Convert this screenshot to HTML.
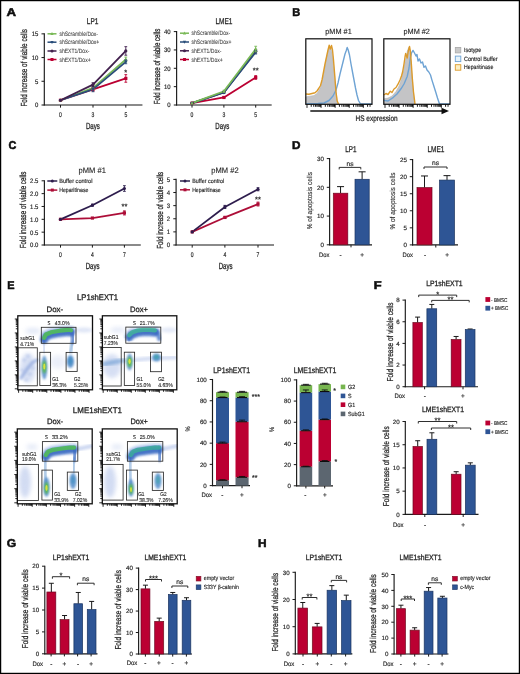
<!DOCTYPE html>
<html><head><meta charset="utf-8"><style>
html,body{margin:0;padding:0;background:#fff;}
svg{display:block;font-family:"Liberation Sans",sans-serif;will-change:transform;text-rendering:geometricPrecision;}
</style></head><body>
<svg width="520" height="674" viewBox="0 0 520 674">
<defs><filter id="gblur" x="0" y="0" width="520" height="674" filterUnits="userSpaceOnUse"><feGaussianBlur stdDeviation="0.35"/></filter><filter id="b2_2" x="-50%" y="-50%" width="200%" height="200%"><feGaussianBlur stdDeviation="2.2"/></filter><filter id="b1_2" x="-50%" y="-50%" width="200%" height="200%"><feGaussianBlur stdDeviation="1.2"/></filter><filter id="b0_9" x="-50%" y="-50%" width="200%" height="200%"><feGaussianBlur stdDeviation="0.9"/></filter><filter id="b2_0" x="-50%" y="-50%" width="200%" height="200%"><feGaussianBlur stdDeviation="2.0"/></filter><filter id="b1_8" x="-50%" y="-50%" width="200%" height="200%"><feGaussianBlur stdDeviation="1.8"/></filter><filter id="b2_5" x="-50%" y="-50%" width="200%" height="200%"><feGaussianBlur stdDeviation="2.5"/></filter><filter id="b1_0" x="-50%" y="-50%" width="200%" height="200%"><feGaussianBlur stdDeviation="1.0"/></filter><filter id="b1_3" x="-50%" y="-50%" width="200%" height="200%"><feGaussianBlur stdDeviation="1.3"/></filter><filter id="b0_8" x="-50%" y="-50%" width="200%" height="200%"><feGaussianBlur stdDeviation="0.8"/></filter><filter id="b0_55" x="-50%" y="-50%" width="200%" height="200%"><feGaussianBlur stdDeviation="0.55"/></filter><filter id="b0_5" x="-50%" y="-50%" width="200%" height="200%"><feGaussianBlur stdDeviation="0.5"/></filter><filter id="b1_1" x="-50%" y="-50%" width="200%" height="200%"><feGaussianBlur stdDeviation="1.1"/></filter><filter id="b1_4" x="-50%" y="-50%" width="200%" height="200%"><feGaussianBlur stdDeviation="1.4"/></filter><filter id="b0_6" x="-50%" y="-50%" width="200%" height="200%"><feGaussianBlur stdDeviation="0.6"/></filter><clipPath id="clip0"><rect x="17.8" y="315.8" width="74.7" height="74.0"/></clipPath><clipPath id="clip1"><rect x="102.4" y="315.8" width="74.4" height="74.0"/></clipPath><clipPath id="clip2"><rect x="17.3" y="428.9" width="74.9" height="74.90000000000003"/></clipPath><clipPath id="clip3"><rect x="102.3" y="428.9" width="74.89999999999999" height="74.90000000000003"/></clipPath></defs>
<rect x="0" y="0" width="520" height="674" fill="#fff"/>
<g filter="url(#gblur)">
<text x="6.60" y="16.40" font-size="11.3" text-anchor="start" textLength="9.60" lengthAdjust="spacingAndGlyphs" fill="#0a0a0a" font-weight="bold" stroke="#0a0a0a" stroke-width="0.5">A</text>
<line x1="44.30" y1="33.30" x2="44.30" y2="105.55" stroke="#1a1a1a" stroke-width="1.15" />
<line x1="43.75" y1="105.00" x2="142.40" y2="105.00" stroke="#1a1a1a" stroke-width="1.15" />
<line x1="41.50" y1="105.00" x2="44.30" y2="105.00" stroke="#1a1a1a" stroke-width="1.0" />
<text x="38.30" y="107.34" font-size="6.5" text-anchor="end" textLength="3.33" lengthAdjust="spacingAndGlyphs" fill="#262626" stroke="#262626" stroke-width="0.1725">0</text>
<line x1="41.50" y1="81.28" x2="44.30" y2="81.28" stroke="#1a1a1a" stroke-width="1.0" />
<text x="38.30" y="83.62" font-size="6.5" text-anchor="end" textLength="3.33" lengthAdjust="spacingAndGlyphs" fill="#262626" stroke="#262626" stroke-width="0.1725">5</text>
<line x1="41.50" y1="57.57" x2="44.30" y2="57.57" stroke="#1a1a1a" stroke-width="1.0" />
<text x="38.30" y="59.91" font-size="6.5" text-anchor="end" textLength="6.65" lengthAdjust="spacingAndGlyphs" fill="#262626" stroke="#262626" stroke-width="0.1725">10</text>
<line x1="41.50" y1="33.85" x2="44.30" y2="33.85" stroke="#1a1a1a" stroke-width="1.0" />
<text x="38.30" y="36.19" font-size="6.5" text-anchor="end" textLength="6.65" lengthAdjust="spacingAndGlyphs" fill="#262626" stroke="#262626" stroke-width="0.1725">15</text>
<line x1="60.50" y1="105.00" x2="60.50" y2="107.60" stroke="#1a1a1a" stroke-width="1.0" />
<text x="60.50" y="116.60" font-size="6.8" text-anchor="middle" textLength="2.80" lengthAdjust="spacingAndGlyphs" fill="#262626" stroke="#262626" stroke-width="0.186">0</text>
<line x1="93.00" y1="105.00" x2="93.00" y2="107.60" stroke="#1a1a1a" stroke-width="1.0" />
<text x="93.00" y="116.60" font-size="6.8" text-anchor="middle" textLength="2.80" lengthAdjust="spacingAndGlyphs" fill="#262626" stroke="#262626" stroke-width="0.186">3</text>
<line x1="125.80" y1="105.00" x2="125.80" y2="107.60" stroke="#1a1a1a" stroke-width="1.0" />
<text x="125.80" y="116.60" font-size="6.8" text-anchor="middle" textLength="2.80" lengthAdjust="spacingAndGlyphs" fill="#262626" stroke="#262626" stroke-width="0.186">5</text>
<text x="92.60" y="23.90" font-size="8.4" text-anchor="middle" textLength="11.60" lengthAdjust="spacingAndGlyphs" fill="#262626" stroke="#262626" stroke-width="0.258">LP1</text>
<text x="92.90" y="128.50" font-size="8.8" text-anchor="middle" textLength="13.90" lengthAdjust="spacingAndGlyphs" fill="#262626" stroke="#262626" stroke-width="0.276">Days</text>
<text transform="translate(27.30,106.50) rotate(-90)" font-size="8.8" text-anchor="start" textLength="77.50" lengthAdjust="spacingAndGlyphs" fill="#262626" stroke="#262626" stroke-width="0.276">Fold increase of viable cells</text>
<polyline points="60.50,100.26 93.00,89.35 125.80,78.44" fill="none" stroke="#bb0632" stroke-width="1.8" stroke-linejoin="round" />
<polyline points="60.50,100.26 93.00,87.92 125.80,59.46" fill="none" stroke="#79b957" stroke-width="1.8" stroke-linejoin="round" />
<polyline points="60.50,100.26 93.00,89.35 125.80,61.84" fill="none" stroke="#2a4d7a" stroke-width="1.8" stroke-linejoin="round" />
<polyline points="60.50,100.26 93.00,84.60 125.80,50.93" fill="none" stroke="#42204e" stroke-width="1.8" stroke-linejoin="round" />
<rect x="58.90" y="98.66" width="3.20" height="3.20" fill="#bb0632" />
<line x1="93.00" y1="91.24" x2="93.00" y2="87.45" stroke="#bb0632" stroke-width="0.9" />
<line x1="91.60" y1="87.45" x2="94.40" y2="87.45" stroke="#bb0632" stroke-width="0.9" />
<line x1="91.60" y1="91.24" x2="94.40" y2="91.24" stroke="#bb0632" stroke-width="0.9" />
<rect x="91.40" y="87.75" width="3.20" height="3.20" fill="#bb0632" />
<line x1="125.80" y1="82.23" x2="125.80" y2="74.64" stroke="#bb0632" stroke-width="0.9" />
<line x1="124.40" y1="74.64" x2="127.20" y2="74.64" stroke="#bb0632" stroke-width="0.9" />
<line x1="124.40" y1="82.23" x2="127.20" y2="82.23" stroke="#bb0632" stroke-width="0.9" />
<rect x="124.20" y="76.84" width="3.20" height="3.20" fill="#bb0632" />
<polygon points="60.50,98.34 58.74,101.54 62.26,101.54" fill="#79b957" />
<line x1="93.00" y1="89.35" x2="93.00" y2="86.50" stroke="#79b957" stroke-width="0.9" />
<line x1="91.60" y1="86.50" x2="94.40" y2="86.50" stroke="#79b957" stroke-width="0.9" />
<line x1="91.60" y1="89.35" x2="94.40" y2="89.35" stroke="#79b957" stroke-width="0.9" />
<polygon points="93.00,86.00 91.24,89.20 94.76,89.20" fill="#79b957" />
<line x1="125.80" y1="61.84" x2="125.80" y2="57.09" stroke="#79b957" stroke-width="0.9" />
<line x1="124.40" y1="57.09" x2="127.20" y2="57.09" stroke="#79b957" stroke-width="0.9" />
<line x1="124.40" y1="61.84" x2="127.20" y2="61.84" stroke="#79b957" stroke-width="0.9" />
<polygon points="125.80,57.54 124.04,60.74 127.56,60.74" fill="#79b957" />
<polygon points="60.50,102.18 58.74,98.98 62.26,98.98" fill="#2a4d7a" />
<line x1="93.00" y1="91.72" x2="93.00" y2="86.98" stroke="#2a4d7a" stroke-width="0.9" />
<line x1="91.60" y1="86.98" x2="94.40" y2="86.98" stroke="#2a4d7a" stroke-width="0.9" />
<line x1="91.60" y1="91.72" x2="94.40" y2="91.72" stroke="#2a4d7a" stroke-width="0.9" />
<polygon points="93.00,91.27 91.24,88.07 94.76,88.07" fill="#2a4d7a" />
<line x1="125.80" y1="63.73" x2="125.80" y2="59.94" stroke="#2a4d7a" stroke-width="0.9" />
<line x1="124.40" y1="59.94" x2="127.20" y2="59.94" stroke="#2a4d7a" stroke-width="0.9" />
<line x1="124.40" y1="63.73" x2="127.20" y2="63.73" stroke="#2a4d7a" stroke-width="0.9" />
<polygon points="125.80,63.76 124.04,60.56 127.56,60.56" fill="#2a4d7a" />
<circle cx="60.50" cy="100.26" r="1.6" fill="#42204e"/>
<line x1="93.00" y1="86.50" x2="93.00" y2="82.71" stroke="#42204e" stroke-width="0.9" />
<line x1="91.60" y1="82.71" x2="94.40" y2="82.71" stroke="#42204e" stroke-width="0.9" />
<line x1="91.60" y1="86.50" x2="94.40" y2="86.50" stroke="#42204e" stroke-width="0.9" />
<circle cx="93.00" cy="84.60" r="1.6" fill="#42204e"/>
<line x1="125.80" y1="55.20" x2="125.80" y2="46.66" stroke="#42204e" stroke-width="0.9" />
<line x1="124.40" y1="46.66" x2="127.20" y2="46.66" stroke="#42204e" stroke-width="0.9" />
<line x1="124.40" y1="55.20" x2="127.20" y2="55.20" stroke="#42204e" stroke-width="0.9" />
<circle cx="125.80" cy="50.93" r="1.6" fill="#42204e"/>
<text x="125.80" y="74.60" font-size="7.5" text-anchor="middle" textLength="2.92" lengthAdjust="spacingAndGlyphs" fill="#262626" stroke="#262626" stroke-width="0.21749999999999997">*</text>
<line x1="47.50" y1="33.80" x2="56.50" y2="33.80" stroke="#79b957" stroke-width="1.5" />
<polygon points="52.00,32.00 50.35,35.00 53.65,35.00" fill="#79b957" />
<text x="59.40" y="35.90" font-size="6.3" text-anchor="start" textLength="38.65" lengthAdjust="spacingAndGlyphs" fill="#383838" stroke="#383838" stroke-width="0.05">shScramble/Dox-</text>
<line x1="47.50" y1="42.20" x2="56.50" y2="42.20" stroke="#2a4d7a" stroke-width="1.5" />
<polygon points="52.00,44.00 50.35,41.00 53.65,41.00" fill="#2a4d7a" />
<text x="59.40" y="44.30" font-size="6.3" text-anchor="start" textLength="39.92" lengthAdjust="spacingAndGlyphs" fill="#383838" stroke="#383838" stroke-width="0.05">shScramble/Dox+</text>
<line x1="47.50" y1="51.00" x2="56.50" y2="51.00" stroke="#42204e" stroke-width="1.5" />
<circle cx="52.00" cy="51.00" r="1.5" fill="#42204e"/>
<text x="59.40" y="53.10" font-size="6.3" text-anchor="start" textLength="29.97" lengthAdjust="spacingAndGlyphs" fill="#383838" stroke="#383838" stroke-width="0.05">shEXT1/Dox-</text>
<line x1="47.50" y1="59.50" x2="56.50" y2="59.50" stroke="#bb0632" stroke-width="1.5" />
<rect x="50.50" y="58.00" width="3.00" height="3.00" fill="#bb0632" />
<text x="59.40" y="61.60" font-size="6.3" text-anchor="start" textLength="31.23" lengthAdjust="spacingAndGlyphs" fill="#383838" stroke="#383838" stroke-width="0.05">shEXT1/Dox+</text>
<line x1="176.60" y1="31.05" x2="176.60" y2="105.55" stroke="#1a1a1a" stroke-width="1.15" />
<line x1="176.05" y1="105.00" x2="271.70" y2="105.00" stroke="#1a1a1a" stroke-width="1.15" />
<line x1="173.80" y1="105.00" x2="176.60" y2="105.00" stroke="#1a1a1a" stroke-width="1.0" />
<text x="170.60" y="107.34" font-size="6.5" text-anchor="end" textLength="3.33" lengthAdjust="spacingAndGlyphs" fill="#262626" stroke="#262626" stroke-width="0.1725">0</text>
<line x1="173.80" y1="86.65" x2="176.60" y2="86.65" stroke="#1a1a1a" stroke-width="1.0" />
<text x="170.60" y="88.99" font-size="6.5" text-anchor="end" textLength="6.65" lengthAdjust="spacingAndGlyphs" fill="#262626" stroke="#262626" stroke-width="0.1725">10</text>
<line x1="173.80" y1="68.30" x2="176.60" y2="68.30" stroke="#1a1a1a" stroke-width="1.0" />
<text x="170.60" y="70.64" font-size="6.5" text-anchor="end" textLength="6.65" lengthAdjust="spacingAndGlyphs" fill="#262626" stroke="#262626" stroke-width="0.1725">20</text>
<line x1="173.80" y1="49.95" x2="176.60" y2="49.95" stroke="#1a1a1a" stroke-width="1.0" />
<text x="170.60" y="52.29" font-size="6.5" text-anchor="end" textLength="6.65" lengthAdjust="spacingAndGlyphs" fill="#262626" stroke="#262626" stroke-width="0.1725">30</text>
<line x1="173.80" y1="31.60" x2="176.60" y2="31.60" stroke="#1a1a1a" stroke-width="1.0" />
<text x="170.60" y="33.94" font-size="6.5" text-anchor="end" textLength="6.65" lengthAdjust="spacingAndGlyphs" fill="#262626" stroke="#262626" stroke-width="0.1725">40</text>
<line x1="192.00" y1="105.00" x2="192.00" y2="107.60" stroke="#1a1a1a" stroke-width="1.0" />
<text x="192.00" y="116.60" font-size="6.8" text-anchor="middle" textLength="2.80" lengthAdjust="spacingAndGlyphs" fill="#262626" stroke="#262626" stroke-width="0.186">0</text>
<line x1="223.90" y1="105.00" x2="223.90" y2="107.60" stroke="#1a1a1a" stroke-width="1.0" />
<text x="223.90" y="116.60" font-size="6.8" text-anchor="middle" textLength="2.80" lengthAdjust="spacingAndGlyphs" fill="#262626" stroke="#262626" stroke-width="0.186">3</text>
<line x1="255.70" y1="105.00" x2="255.70" y2="107.60" stroke="#1a1a1a" stroke-width="1.0" />
<text x="255.70" y="116.60" font-size="6.8" text-anchor="middle" textLength="2.80" lengthAdjust="spacingAndGlyphs" fill="#262626" stroke="#262626" stroke-width="0.186">5</text>
<text x="224.00" y="23.90" font-size="8.4" text-anchor="middle" textLength="17.00" lengthAdjust="spacingAndGlyphs" fill="#262626" stroke="#262626" stroke-width="0.258">LME1</text>
<text x="222.30" y="128.50" font-size="8.8" text-anchor="middle" textLength="13.90" lengthAdjust="spacingAndGlyphs" fill="#262626" stroke="#262626" stroke-width="0.276">Days</text>
<text transform="translate(160.30,104.20) rotate(-90)" font-size="8.8" text-anchor="start" textLength="75.50" lengthAdjust="spacingAndGlyphs" fill="#262626" stroke="#262626" stroke-width="0.276">Fold increase of viable cells</text>
<polyline points="192.00,103.17 223.90,97.48 255.70,77.47" fill="none" stroke="#bb0632" stroke-width="1.8" stroke-linejoin="round" />
<polyline points="192.00,103.17 223.90,92.34 255.70,51.23" fill="none" stroke="#42204e" stroke-width="1.8" stroke-linejoin="round" />
<polyline points="192.00,103.17 223.90,92.52 255.70,52.15" fill="none" stroke="#2a4d7a" stroke-width="1.8" stroke-linejoin="round" />
<polyline points="192.00,103.17 223.90,91.24 255.70,49.03" fill="none" stroke="#79b957" stroke-width="1.8" stroke-linejoin="round" />
<rect x="190.40" y="101.57" width="3.20" height="3.20" fill="#bb0632" />
<line x1="223.90" y1="98.03" x2="223.90" y2="96.93" stroke="#bb0632" stroke-width="0.9" />
<line x1="222.50" y1="96.93" x2="225.30" y2="96.93" stroke="#bb0632" stroke-width="0.9" />
<line x1="222.50" y1="98.03" x2="225.30" y2="98.03" stroke="#bb0632" stroke-width="0.9" />
<rect x="222.30" y="95.88" width="3.20" height="3.20" fill="#bb0632" />
<line x1="255.70" y1="79.31" x2="255.70" y2="75.64" stroke="#bb0632" stroke-width="0.9" />
<line x1="254.30" y1="75.64" x2="257.10" y2="75.64" stroke="#bb0632" stroke-width="0.9" />
<line x1="254.30" y1="79.31" x2="257.10" y2="79.31" stroke="#bb0632" stroke-width="0.9" />
<rect x="254.10" y="75.88" width="3.20" height="3.20" fill="#bb0632" />
<circle cx="192.00" cy="103.17" r="1.6" fill="#42204e"/>
<line x1="223.90" y1="93.07" x2="223.90" y2="91.60" stroke="#42204e" stroke-width="0.9" />
<line x1="222.50" y1="91.60" x2="225.30" y2="91.60" stroke="#42204e" stroke-width="0.9" />
<line x1="222.50" y1="93.07" x2="225.30" y2="93.07" stroke="#42204e" stroke-width="0.9" />
<circle cx="223.90" cy="92.34" r="1.6" fill="#42204e"/>
<line x1="255.70" y1="53.07" x2="255.70" y2="49.40" stroke="#42204e" stroke-width="0.9" />
<line x1="254.30" y1="49.40" x2="257.10" y2="49.40" stroke="#42204e" stroke-width="0.9" />
<line x1="254.30" y1="53.07" x2="257.10" y2="53.07" stroke="#42204e" stroke-width="0.9" />
<circle cx="255.70" cy="51.23" r="1.6" fill="#42204e"/>
<polygon points="192.00,105.09 190.24,101.89 193.76,101.89" fill="#2a4d7a" />
<line x1="223.90" y1="93.44" x2="223.90" y2="91.60" stroke="#2a4d7a" stroke-width="0.9" />
<line x1="222.50" y1="91.60" x2="225.30" y2="91.60" stroke="#2a4d7a" stroke-width="0.9" />
<line x1="222.50" y1="93.44" x2="225.30" y2="93.44" stroke="#2a4d7a" stroke-width="0.9" />
<polygon points="223.90,94.44 222.14,91.24 225.66,91.24" fill="#2a4d7a" />
<line x1="255.70" y1="53.99" x2="255.70" y2="50.32" stroke="#2a4d7a" stroke-width="0.9" />
<line x1="254.30" y1="50.32" x2="257.10" y2="50.32" stroke="#2a4d7a" stroke-width="0.9" />
<line x1="254.30" y1="53.99" x2="257.10" y2="53.99" stroke="#2a4d7a" stroke-width="0.9" />
<polygon points="255.70,54.07 253.94,50.87 257.46,50.87" fill="#2a4d7a" />
<polygon points="192.00,101.25 190.24,104.45 193.76,104.45" fill="#79b957" />
<line x1="223.90" y1="92.16" x2="223.90" y2="90.32" stroke="#79b957" stroke-width="0.9" />
<line x1="222.50" y1="90.32" x2="225.30" y2="90.32" stroke="#79b957" stroke-width="0.9" />
<line x1="222.50" y1="92.16" x2="225.30" y2="92.16" stroke="#79b957" stroke-width="0.9" />
<polygon points="223.90,89.32 222.14,92.52 225.66,92.52" fill="#79b957" />
<line x1="255.70" y1="51.78" x2="255.70" y2="46.28" stroke="#79b957" stroke-width="0.9" />
<line x1="254.30" y1="46.28" x2="257.10" y2="46.28" stroke="#79b957" stroke-width="0.9" />
<line x1="254.30" y1="51.78" x2="257.10" y2="51.78" stroke="#79b957" stroke-width="0.9" />
<polygon points="255.70,47.11 253.94,50.31 257.46,50.31" fill="#79b957" />
<text x="255.70" y="72.60" font-size="7.5" text-anchor="middle" textLength="5.84" lengthAdjust="spacingAndGlyphs" fill="#262626" stroke="#262626" stroke-width="0.21749999999999997">**</text>
<line x1="180.00" y1="33.20" x2="189.00" y2="33.20" stroke="#79b957" stroke-width="1.5" />
<polygon points="184.50,31.40 182.85,34.40 186.15,34.40" fill="#79b957" />
<text x="191.50" y="35.30" font-size="6.3" text-anchor="start" textLength="38.65" lengthAdjust="spacingAndGlyphs" fill="#383838" stroke="#383838" stroke-width="0.05">shScramble/Dox-</text>
<line x1="180.00" y1="42.00" x2="189.00" y2="42.00" stroke="#2a4d7a" stroke-width="1.5" />
<polygon points="184.50,43.80 182.85,40.80 186.15,40.80" fill="#2a4d7a" />
<text x="191.50" y="44.10" font-size="6.3" text-anchor="start" textLength="39.92" lengthAdjust="spacingAndGlyphs" fill="#383838" stroke="#383838" stroke-width="0.05">shScramble/Dox+</text>
<line x1="180.00" y1="50.80" x2="189.00" y2="50.80" stroke="#42204e" stroke-width="1.5" />
<circle cx="184.50" cy="50.80" r="1.5" fill="#42204e"/>
<text x="191.50" y="52.90" font-size="6.3" text-anchor="start" textLength="29.97" lengthAdjust="spacingAndGlyphs" fill="#383838" stroke="#383838" stroke-width="0.05">shEXT1/Dox-</text>
<line x1="180.00" y1="59.50" x2="189.00" y2="59.50" stroke="#bb0632" stroke-width="1.5" />
<rect x="183.00" y="58.00" width="3.00" height="3.00" fill="#bb0632" />
<text x="191.50" y="61.60" font-size="6.3" text-anchor="start" textLength="31.23" lengthAdjust="spacingAndGlyphs" fill="#383838" stroke="#383838" stroke-width="0.05">shEXT1/Dox+</text>
<text x="292.20" y="16.20" font-size="11.3" text-anchor="start" textLength="8.00" lengthAdjust="spacingAndGlyphs" fill="#0a0a0a" font-weight="bold" stroke="#0a0a0a" stroke-width="0.5">B</text>
<text x="338.50" y="34.40" font-size="7.6" text-anchor="middle" textLength="26.50" lengthAdjust="spacingAndGlyphs" fill="#262626" stroke="#262626" stroke-width="0.12">pMM #1</text>
<text x="416.70" y="34.40" font-size="7.6" text-anchor="middle" textLength="26.50" lengthAdjust="spacingAndGlyphs" fill="#262626" stroke="#262626" stroke-width="0.12">pMM #2</text>
<polygon points="305.80,104.30 305.80,96.80 310.00,96.20 314.00,95.50 317.00,93.50 320.00,88.50 322.00,82.00 324.00,72.00 326.00,60.00 328.00,51.00 329.50,46.50 331.00,48.00 332.50,55.00 334.00,70.00 335.50,88.00 337.00,100.00 338.00,104.30 338.00,104.30" fill="#c4c4c6" stroke="#b0b0b0" stroke-width="0.5"/>
<polyline points="305.80,103.90 318.00,103.50 324.00,103.00 329.00,100.50 333.00,96.00 336.00,90.00 338.00,83.00 340.00,74.00 342.00,66.00 343.50,60.00 345.00,54.00 346.30,50.50 347.20,47.50 348.20,50.00 349.50,55.00 351.00,64.00 352.50,72.00 354.00,80.00 355.50,88.00 357.00,95.00 358.50,100.50 360.50,104.00 372.00,104.00" fill="none" stroke="#6ea3d4" stroke-width="1.4" stroke-linejoin="round" />
<polyline points="305.80,94.00 309.00,94.20 312.00,93.50 315.00,92.80 317.00,91.00 319.00,88.00 320.50,85.50 322.00,80.00 323.50,72.00 325.00,64.00 326.50,57.00 328.00,50.00 329.20,45.20 330.30,49.00 331.50,45.50 332.50,50.00 333.50,60.00 334.80,76.00 336.00,92.00 337.20,101.00 338.50,104.00" fill="none" stroke="#dc9a2a" stroke-width="1.4" stroke-linejoin="round" />
<rect x="305.80" y="38.80" width="66.20" height="65.50" fill="none" stroke="#111" stroke-width="1.2" />
<line x1="307.00" y1="104.30" x2="307.00" y2="107.80" stroke="#111" stroke-width="0.95" />
<line x1="311.24" y1="104.30" x2="311.24" y2="106.80" stroke="#111" stroke-width="0.95" />
<line x1="313.72" y1="104.30" x2="313.72" y2="106.80" stroke="#111" stroke-width="0.95" />
<line x1="315.48" y1="104.30" x2="315.48" y2="106.80" stroke="#111" stroke-width="0.95" />
<line x1="316.85" y1="104.30" x2="316.85" y2="106.80" stroke="#111" stroke-width="0.95" />
<line x1="317.96" y1="104.30" x2="317.96" y2="106.80" stroke="#111" stroke-width="0.95" />
<line x1="318.90" y1="104.30" x2="318.90" y2="106.80" stroke="#111" stroke-width="0.95" />
<line x1="319.72" y1="104.30" x2="319.72" y2="106.80" stroke="#111" stroke-width="0.95" />
<line x1="320.44" y1="104.30" x2="320.44" y2="106.80" stroke="#111" stroke-width="0.95" />
<line x1="321.09" y1="104.30" x2="321.09" y2="107.80" stroke="#111" stroke-width="0.95" />
<line x1="325.33" y1="104.30" x2="325.33" y2="106.80" stroke="#111" stroke-width="0.95" />
<line x1="327.81" y1="104.30" x2="327.81" y2="106.80" stroke="#111" stroke-width="0.95" />
<line x1="329.57" y1="104.30" x2="329.57" y2="106.80" stroke="#111" stroke-width="0.95" />
<line x1="330.93" y1="104.30" x2="330.93" y2="106.80" stroke="#111" stroke-width="0.95" />
<line x1="332.05" y1="104.30" x2="332.05" y2="106.80" stroke="#111" stroke-width="0.95" />
<line x1="332.99" y1="104.30" x2="332.99" y2="106.80" stroke="#111" stroke-width="0.95" />
<line x1="333.81" y1="104.30" x2="333.81" y2="106.80" stroke="#111" stroke-width="0.95" />
<line x1="334.53" y1="104.30" x2="334.53" y2="106.80" stroke="#111" stroke-width="0.95" />
<line x1="335.17" y1="104.30" x2="335.17" y2="107.80" stroke="#111" stroke-width="0.95" />
<line x1="339.41" y1="104.30" x2="339.41" y2="106.80" stroke="#111" stroke-width="0.95" />
<line x1="341.89" y1="104.30" x2="341.89" y2="106.80" stroke="#111" stroke-width="0.95" />
<line x1="343.65" y1="104.30" x2="343.65" y2="106.80" stroke="#111" stroke-width="0.95" />
<line x1="345.02" y1="104.30" x2="345.02" y2="106.80" stroke="#111" stroke-width="0.95" />
<line x1="346.13" y1="104.30" x2="346.13" y2="106.80" stroke="#111" stroke-width="0.95" />
<line x1="347.07" y1="104.30" x2="347.07" y2="106.80" stroke="#111" stroke-width="0.95" />
<line x1="347.89" y1="104.30" x2="347.89" y2="106.80" stroke="#111" stroke-width="0.95" />
<line x1="348.61" y1="104.30" x2="348.61" y2="106.80" stroke="#111" stroke-width="0.95" />
<line x1="349.26" y1="104.30" x2="349.26" y2="107.80" stroke="#111" stroke-width="0.95" />
<line x1="353.50" y1="104.30" x2="353.50" y2="106.80" stroke="#111" stroke-width="0.95" />
<line x1="355.98" y1="104.30" x2="355.98" y2="106.80" stroke="#111" stroke-width="0.95" />
<line x1="357.74" y1="104.30" x2="357.74" y2="106.80" stroke="#111" stroke-width="0.95" />
<line x1="359.10" y1="104.30" x2="359.10" y2="106.80" stroke="#111" stroke-width="0.95" />
<line x1="360.22" y1="104.30" x2="360.22" y2="106.80" stroke="#111" stroke-width="0.95" />
<line x1="361.16" y1="104.30" x2="361.16" y2="106.80" stroke="#111" stroke-width="0.95" />
<line x1="361.98" y1="104.30" x2="361.98" y2="106.80" stroke="#111" stroke-width="0.95" />
<line x1="362.70" y1="104.30" x2="362.70" y2="106.80" stroke="#111" stroke-width="0.95" />
<line x1="363.34" y1="104.30" x2="363.34" y2="107.80" stroke="#111" stroke-width="0.95" />
<line x1="367.58" y1="104.30" x2="367.58" y2="106.80" stroke="#111" stroke-width="0.95" />
<line x1="370.06" y1="104.30" x2="370.06" y2="106.80" stroke="#111" stroke-width="0.95" />
<polygon points="383.80,104.30 383.80,98.80 388.00,98.00 392.00,96.00 396.00,91.50 399.00,86.00 401.50,79.00 403.50,70.00 405.50,60.00 407.30,51.00 408.80,47.30 410.20,55.00 411.50,70.00 413.00,88.00 414.60,104.30 414.60,104.30" fill="#c4c4c6" stroke="#b0b0b0" stroke-width="0.5"/>
<polyline points="383.80,100.40 388.00,101.00 393.40,97.30 397.00,94.00 401.00,88.80 404.00,84.00 407.20,76.50 409.00,68.00 410.30,58.00 411.50,53.00 413.00,50.40 414.50,53.00 416.00,56.00 417.00,54.50 418.00,61.00 419.50,59.00 421.00,63.00 422.50,62.00 424.00,67.30 425.50,66.00 427.00,70.00 428.80,72.00 430.50,75.00 431.80,79.60 433.50,85.00 435.70,92.00 437.50,98.00 439.50,104.00 450.00,104.00" fill="none" stroke="#6ea3d4" stroke-width="1.4" stroke-linejoin="round" />
<polyline points="383.80,95.00 386.00,93.50 388.00,94.50 390.30,91.20 392.00,92.50 394.00,89.00 396.00,87.50 398.00,84.20 400.00,80.00 401.50,76.00 402.60,72.00 404.00,64.00 405.00,57.00 405.70,53.50 406.60,56.00 407.20,58.00 408.30,51.00 409.50,46.50 410.50,52.00 411.50,66.00 412.30,78.00 413.50,92.00 415.00,104.00" fill="none" stroke="#dc9a2a" stroke-width="1.4" stroke-linejoin="round" />
<rect x="383.80" y="38.80" width="66.20" height="65.50" fill="none" stroke="#111" stroke-width="1.2" />
<line x1="385.00" y1="104.30" x2="385.00" y2="107.80" stroke="#111" stroke-width="0.95" />
<line x1="389.24" y1="104.30" x2="389.24" y2="106.80" stroke="#111" stroke-width="0.95" />
<line x1="391.72" y1="104.30" x2="391.72" y2="106.80" stroke="#111" stroke-width="0.95" />
<line x1="393.48" y1="104.30" x2="393.48" y2="106.80" stroke="#111" stroke-width="0.95" />
<line x1="394.85" y1="104.30" x2="394.85" y2="106.80" stroke="#111" stroke-width="0.95" />
<line x1="395.96" y1="104.30" x2="395.96" y2="106.80" stroke="#111" stroke-width="0.95" />
<line x1="396.90" y1="104.30" x2="396.90" y2="106.80" stroke="#111" stroke-width="0.95" />
<line x1="397.72" y1="104.30" x2="397.72" y2="106.80" stroke="#111" stroke-width="0.95" />
<line x1="398.44" y1="104.30" x2="398.44" y2="106.80" stroke="#111" stroke-width="0.95" />
<line x1="399.09" y1="104.30" x2="399.09" y2="107.80" stroke="#111" stroke-width="0.95" />
<line x1="403.33" y1="104.30" x2="403.33" y2="106.80" stroke="#111" stroke-width="0.95" />
<line x1="405.81" y1="104.30" x2="405.81" y2="106.80" stroke="#111" stroke-width="0.95" />
<line x1="407.57" y1="104.30" x2="407.57" y2="106.80" stroke="#111" stroke-width="0.95" />
<line x1="408.93" y1="104.30" x2="408.93" y2="106.80" stroke="#111" stroke-width="0.95" />
<line x1="410.05" y1="104.30" x2="410.05" y2="106.80" stroke="#111" stroke-width="0.95" />
<line x1="410.99" y1="104.30" x2="410.99" y2="106.80" stroke="#111" stroke-width="0.95" />
<line x1="411.81" y1="104.30" x2="411.81" y2="106.80" stroke="#111" stroke-width="0.95" />
<line x1="412.53" y1="104.30" x2="412.53" y2="106.80" stroke="#111" stroke-width="0.95" />
<line x1="413.17" y1="104.30" x2="413.17" y2="107.80" stroke="#111" stroke-width="0.95" />
<line x1="417.41" y1="104.30" x2="417.41" y2="106.80" stroke="#111" stroke-width="0.95" />
<line x1="419.89" y1="104.30" x2="419.89" y2="106.80" stroke="#111" stroke-width="0.95" />
<line x1="421.65" y1="104.30" x2="421.65" y2="106.80" stroke="#111" stroke-width="0.95" />
<line x1="423.02" y1="104.30" x2="423.02" y2="106.80" stroke="#111" stroke-width="0.95" />
<line x1="424.13" y1="104.30" x2="424.13" y2="106.80" stroke="#111" stroke-width="0.95" />
<line x1="425.07" y1="104.30" x2="425.07" y2="106.80" stroke="#111" stroke-width="0.95" />
<line x1="425.89" y1="104.30" x2="425.89" y2="106.80" stroke="#111" stroke-width="0.95" />
<line x1="426.61" y1="104.30" x2="426.61" y2="106.80" stroke="#111" stroke-width="0.95" />
<line x1="427.26" y1="104.30" x2="427.26" y2="107.80" stroke="#111" stroke-width="0.95" />
<line x1="431.50" y1="104.30" x2="431.50" y2="106.80" stroke="#111" stroke-width="0.95" />
<line x1="433.98" y1="104.30" x2="433.98" y2="106.80" stroke="#111" stroke-width="0.95" />
<line x1="435.74" y1="104.30" x2="435.74" y2="106.80" stroke="#111" stroke-width="0.95" />
<line x1="437.10" y1="104.30" x2="437.10" y2="106.80" stroke="#111" stroke-width="0.95" />
<line x1="438.22" y1="104.30" x2="438.22" y2="106.80" stroke="#111" stroke-width="0.95" />
<line x1="439.16" y1="104.30" x2="439.16" y2="106.80" stroke="#111" stroke-width="0.95" />
<line x1="439.98" y1="104.30" x2="439.98" y2="106.80" stroke="#111" stroke-width="0.95" />
<line x1="440.70" y1="104.30" x2="440.70" y2="106.80" stroke="#111" stroke-width="0.95" />
<line x1="441.34" y1="104.30" x2="441.34" y2="107.80" stroke="#111" stroke-width="0.95" />
<line x1="445.58" y1="104.30" x2="445.58" y2="106.80" stroke="#111" stroke-width="0.95" />
<line x1="448.06" y1="104.30" x2="448.06" y2="106.80" stroke="#111" stroke-width="0.95" />
<line x1="310.30" y1="111.00" x2="443.00" y2="111.00" stroke="#111" stroke-width="1.35" />
<polygon points="449.00,111.00 441.50,107.80 441.50,114.20" fill="#111" />
<text x="376.60" y="120.60" font-size="8.0" text-anchor="middle" textLength="42.00" lengthAdjust="spacingAndGlyphs" fill="#262626" stroke="#262626" stroke-width="0.24">HS expression</text>
<rect x="455.30" y="47.40" width="5.50" height="5.50" fill="#c9c9c9" stroke="#a8a8a8" stroke-width="0.8" />
<rect x="455.30" y="56.10" width="5.50" height="5.50" fill="#e6f3fb" stroke="#6ea3d4" stroke-width="0.9" />
<rect x="455.30" y="64.70" width="5.50" height="5.50" fill="#fcefc4" stroke="#dc9a2a" stroke-width="0.9" />
<text x="464.00" y="52.10" font-size="6.2" text-anchor="start" textLength="17.30" lengthAdjust="spacingAndGlyphs" fill="#262626" stroke="#262626" stroke-width="0.15899999999999997">Isotype</text>
<text x="464.00" y="60.70" font-size="6.2" text-anchor="start" textLength="33.60" lengthAdjust="spacingAndGlyphs" fill="#262626" stroke="#262626" stroke-width="0.15899999999999997">Control Buffer</text>
<text x="464.00" y="69.10" font-size="6.2" text-anchor="start" textLength="29.30" lengthAdjust="spacingAndGlyphs" fill="#262626" stroke="#262626" stroke-width="0.15899999999999997">Heparitinase</text>
<text x="8.40" y="149.30" font-size="11.3" text-anchor="start" textLength="7.90" lengthAdjust="spacingAndGlyphs" fill="#0a0a0a" font-weight="bold" stroke="#0a0a0a" stroke-width="0.5">C</text>
<line x1="44.40" y1="180.25" x2="44.40" y2="245.55" stroke="#1a1a1a" stroke-width="1.15" />
<line x1="43.85" y1="245.00" x2="140.80" y2="245.00" stroke="#1a1a1a" stroke-width="1.15" />
<line x1="41.60" y1="245.00" x2="44.40" y2="245.00" stroke="#1a1a1a" stroke-width="1.0" />
<text x="38.40" y="247.34" font-size="6.5" text-anchor="end" textLength="8.31" lengthAdjust="spacingAndGlyphs" fill="#262626" stroke="#262626" stroke-width="0.1725">0.0</text>
<line x1="41.60" y1="232.16" x2="44.40" y2="232.16" stroke="#1a1a1a" stroke-width="1.0" />
<text x="38.40" y="234.50" font-size="6.5" text-anchor="end" textLength="8.31" lengthAdjust="spacingAndGlyphs" fill="#262626" stroke="#262626" stroke-width="0.1725">0.5</text>
<line x1="41.60" y1="219.32" x2="44.40" y2="219.32" stroke="#1a1a1a" stroke-width="1.0" />
<text x="38.40" y="221.66" font-size="6.5" text-anchor="end" textLength="8.31" lengthAdjust="spacingAndGlyphs" fill="#262626" stroke="#262626" stroke-width="0.1725">1.0</text>
<line x1="41.60" y1="206.48" x2="44.40" y2="206.48" stroke="#1a1a1a" stroke-width="1.0" />
<text x="38.40" y="208.82" font-size="6.5" text-anchor="end" textLength="8.31" lengthAdjust="spacingAndGlyphs" fill="#262626" stroke="#262626" stroke-width="0.1725">1.5</text>
<line x1="41.60" y1="193.64" x2="44.40" y2="193.64" stroke="#1a1a1a" stroke-width="1.0" />
<text x="38.40" y="195.98" font-size="6.5" text-anchor="end" textLength="8.31" lengthAdjust="spacingAndGlyphs" fill="#262626" stroke="#262626" stroke-width="0.1725">2.0</text>
<line x1="41.60" y1="180.80" x2="44.40" y2="180.80" stroke="#1a1a1a" stroke-width="1.0" />
<text x="38.40" y="183.14" font-size="6.5" text-anchor="end" textLength="8.31" lengthAdjust="spacingAndGlyphs" fill="#262626" stroke="#262626" stroke-width="0.1725">2.5</text>
<line x1="60.50" y1="245.00" x2="60.50" y2="247.60" stroke="#1a1a1a" stroke-width="1.0" />
<text x="60.50" y="256.90" font-size="6.8" text-anchor="middle" textLength="2.80" lengthAdjust="spacingAndGlyphs" fill="#262626" stroke="#262626" stroke-width="0.186">0</text>
<line x1="92.40" y1="245.00" x2="92.40" y2="247.60" stroke="#1a1a1a" stroke-width="1.0" />
<text x="92.40" y="256.90" font-size="6.8" text-anchor="middle" textLength="2.80" lengthAdjust="spacingAndGlyphs" fill="#262626" stroke="#262626" stroke-width="0.186">4</text>
<line x1="124.40" y1="245.00" x2="124.40" y2="247.60" stroke="#1a1a1a" stroke-width="1.0" />
<text x="124.40" y="256.90" font-size="6.8" text-anchor="middle" textLength="2.80" lengthAdjust="spacingAndGlyphs" fill="#262626" stroke="#262626" stroke-width="0.186">7</text>
<text x="92.20" y="172.80" font-size="8.0" text-anchor="middle" textLength="27.30" lengthAdjust="spacingAndGlyphs" fill="#262626" stroke="#262626" stroke-width="0.12">pMM #1</text>
<text x="92.60" y="269.40" font-size="8.8" text-anchor="middle" textLength="13.90" lengthAdjust="spacingAndGlyphs" fill="#262626" stroke="#262626" stroke-width="0.276">Days</text>
<text transform="translate(26.00,248.20) rotate(-90)" font-size="8.8" text-anchor="start" textLength="76.50" lengthAdjust="spacingAndGlyphs" fill="#262626" stroke="#262626" stroke-width="0.276">Fold increase of viable cells</text>
<polyline points="60.50,219.32 92.40,218.04 124.40,212.90" fill="none" stroke="#ad1038" stroke-width="1.8" stroke-linejoin="round" />
<polyline points="60.50,219.32 92.40,205.20 124.40,188.50" fill="none" stroke="#2e1f4e" stroke-width="1.8" stroke-linejoin="round" />
<rect x="58.90" y="217.72" width="3.20" height="3.20" fill="#ad1038" />
<line x1="92.40" y1="218.55" x2="92.40" y2="217.52" stroke="#ad1038" stroke-width="0.9" />
<line x1="91.00" y1="217.52" x2="93.80" y2="217.52" stroke="#ad1038" stroke-width="0.9" />
<line x1="91.00" y1="218.55" x2="93.80" y2="218.55" stroke="#ad1038" stroke-width="0.9" />
<rect x="90.80" y="216.44" width="3.20" height="3.20" fill="#ad1038" />
<line x1="124.40" y1="214.95" x2="124.40" y2="210.85" stroke="#ad1038" stroke-width="0.9" />
<line x1="123.00" y1="210.85" x2="125.80" y2="210.85" stroke="#ad1038" stroke-width="0.9" />
<line x1="123.00" y1="214.95" x2="125.80" y2="214.95" stroke="#ad1038" stroke-width="0.9" />
<rect x="122.80" y="211.30" width="3.20" height="3.20" fill="#ad1038" />
<circle cx="60.50" cy="219.32" r="1.6" fill="#2e1f4e"/>
<line x1="92.40" y1="206.22" x2="92.40" y2="204.17" stroke="#2e1f4e" stroke-width="0.9" />
<line x1="91.00" y1="204.17" x2="93.80" y2="204.17" stroke="#2e1f4e" stroke-width="0.9" />
<line x1="91.00" y1="206.22" x2="93.80" y2="206.22" stroke="#2e1f4e" stroke-width="0.9" />
<circle cx="92.40" cy="205.20" r="1.6" fill="#2e1f4e"/>
<line x1="124.40" y1="191.33" x2="124.40" y2="185.68" stroke="#2e1f4e" stroke-width="0.9" />
<line x1="123.00" y1="185.68" x2="125.80" y2="185.68" stroke="#2e1f4e" stroke-width="0.9" />
<line x1="123.00" y1="191.33" x2="125.80" y2="191.33" stroke="#2e1f4e" stroke-width="0.9" />
<circle cx="124.40" cy="188.50" r="1.6" fill="#2e1f4e"/>
<text x="124.40" y="209.00" font-size="7.5" text-anchor="middle" textLength="5.84" lengthAdjust="spacingAndGlyphs" fill="#262626" stroke="#262626" stroke-width="0.21749999999999997">**</text>
<line x1="47.30" y1="181.00" x2="57.30" y2="181.00" stroke="#2e1f4e" stroke-width="1.5" />
<circle cx="52.30" cy="181.00" r="1.5" fill="#2e1f4e"/>
<text x="59.20" y="183.10" font-size="6.0" text-anchor="start" textLength="33.20" lengthAdjust="spacingAndGlyphs" fill="#1e1e1e" stroke="#1e1e1e" stroke-width="0.14">Buffer control</text>
<line x1="47.30" y1="190.10" x2="57.30" y2="190.10" stroke="#ad1038" stroke-width="1.5" />
<rect x="50.80" y="188.60" width="3.00" height="3.00" fill="#ad1038" />
<text x="59.20" y="192.20" font-size="6.0" text-anchor="start" textLength="29.20" lengthAdjust="spacingAndGlyphs" fill="#1e1e1e" stroke="#1e1e1e" stroke-width="0.14">Heparitinase</text>
<line x1="176.10" y1="178.85" x2="176.10" y2="245.55" stroke="#1a1a1a" stroke-width="1.15" />
<line x1="175.55" y1="245.00" x2="274.00" y2="245.00" stroke="#1a1a1a" stroke-width="1.15" />
<line x1="173.30" y1="245.00" x2="176.10" y2="245.00" stroke="#1a1a1a" stroke-width="1.0" />
<text x="170.10" y="247.34" font-size="6.5" text-anchor="end" textLength="3.33" lengthAdjust="spacingAndGlyphs" fill="#262626" stroke="#262626" stroke-width="0.1725">0</text>
<line x1="173.30" y1="231.88" x2="176.10" y2="231.88" stroke="#1a1a1a" stroke-width="1.0" />
<text x="170.10" y="234.22" font-size="6.5" text-anchor="end" textLength="3.33" lengthAdjust="spacingAndGlyphs" fill="#262626" stroke="#262626" stroke-width="0.1725">1</text>
<line x1="173.30" y1="218.76" x2="176.10" y2="218.76" stroke="#1a1a1a" stroke-width="1.0" />
<text x="170.10" y="221.10" font-size="6.5" text-anchor="end" textLength="3.33" lengthAdjust="spacingAndGlyphs" fill="#262626" stroke="#262626" stroke-width="0.1725">2</text>
<line x1="173.30" y1="205.64" x2="176.10" y2="205.64" stroke="#1a1a1a" stroke-width="1.0" />
<text x="170.10" y="207.98" font-size="6.5" text-anchor="end" textLength="3.33" lengthAdjust="spacingAndGlyphs" fill="#262626" stroke="#262626" stroke-width="0.1725">3</text>
<line x1="173.30" y1="192.52" x2="176.10" y2="192.52" stroke="#1a1a1a" stroke-width="1.0" />
<text x="170.10" y="194.86" font-size="6.5" text-anchor="end" textLength="3.33" lengthAdjust="spacingAndGlyphs" fill="#262626" stroke="#262626" stroke-width="0.1725">4</text>
<line x1="173.30" y1="179.40" x2="176.10" y2="179.40" stroke="#1a1a1a" stroke-width="1.0" />
<text x="170.10" y="181.74" font-size="6.5" text-anchor="end" textLength="3.33" lengthAdjust="spacingAndGlyphs" fill="#262626" stroke="#262626" stroke-width="0.1725">5</text>
<line x1="192.20" y1="245.00" x2="192.20" y2="247.60" stroke="#1a1a1a" stroke-width="1.0" />
<text x="192.20" y="256.90" font-size="6.8" text-anchor="middle" textLength="2.80" lengthAdjust="spacingAndGlyphs" fill="#262626" stroke="#262626" stroke-width="0.186">0</text>
<line x1="224.90" y1="245.00" x2="224.90" y2="247.60" stroke="#1a1a1a" stroke-width="1.0" />
<text x="224.90" y="256.90" font-size="6.8" text-anchor="middle" textLength="2.80" lengthAdjust="spacingAndGlyphs" fill="#262626" stroke="#262626" stroke-width="0.186">4</text>
<line x1="258.00" y1="245.00" x2="258.00" y2="247.60" stroke="#1a1a1a" stroke-width="1.0" />
<text x="258.00" y="256.90" font-size="6.8" text-anchor="middle" textLength="2.80" lengthAdjust="spacingAndGlyphs" fill="#262626" stroke="#262626" stroke-width="0.186">7</text>
<text x="225.00" y="172.80" font-size="8.0" text-anchor="middle" textLength="27.30" lengthAdjust="spacingAndGlyphs" fill="#262626" stroke="#262626" stroke-width="0.12">pMM #2</text>
<text x="225.60" y="269.40" font-size="8.8" text-anchor="middle" textLength="13.90" lengthAdjust="spacingAndGlyphs" fill="#262626" stroke="#262626" stroke-width="0.276">Days</text>
<text transform="translate(162.50,248.80) rotate(-90)" font-size="8.8" text-anchor="start" textLength="77.00" lengthAdjust="spacingAndGlyphs" fill="#262626" stroke="#262626" stroke-width="0.276">Fold increase of viable cells</text>
<polyline points="192.20,231.88 224.90,217.45 258.00,204.07" fill="none" stroke="#ad1038" stroke-width="1.8" stroke-linejoin="round" />
<polyline points="192.20,231.88 224.90,206.95 258.00,189.24" fill="none" stroke="#2e1f4e" stroke-width="1.8" stroke-linejoin="round" />
<rect x="190.60" y="230.28" width="3.20" height="3.20" fill="#ad1038" />
<line x1="224.90" y1="218.50" x2="224.90" y2="216.40" stroke="#ad1038" stroke-width="0.9" />
<line x1="223.50" y1="216.40" x2="226.30" y2="216.40" stroke="#ad1038" stroke-width="0.9" />
<line x1="223.50" y1="218.50" x2="226.30" y2="218.50" stroke="#ad1038" stroke-width="0.9" />
<rect x="223.30" y="215.85" width="3.20" height="3.20" fill="#ad1038" />
<line x1="258.00" y1="206.03" x2="258.00" y2="202.10" stroke="#ad1038" stroke-width="0.9" />
<line x1="256.60" y1="202.10" x2="259.40" y2="202.10" stroke="#ad1038" stroke-width="0.9" />
<line x1="256.60" y1="206.03" x2="259.40" y2="206.03" stroke="#ad1038" stroke-width="0.9" />
<rect x="256.40" y="202.47" width="3.20" height="3.20" fill="#ad1038" />
<circle cx="192.20" cy="231.88" r="1.6" fill="#2e1f4e"/>
<line x1="224.90" y1="208.53" x2="224.90" y2="205.38" stroke="#2e1f4e" stroke-width="0.9" />
<line x1="223.50" y1="205.38" x2="226.30" y2="205.38" stroke="#2e1f4e" stroke-width="0.9" />
<line x1="223.50" y1="208.53" x2="226.30" y2="208.53" stroke="#2e1f4e" stroke-width="0.9" />
<circle cx="224.90" cy="206.95" r="1.6" fill="#2e1f4e"/>
<line x1="258.00" y1="190.81" x2="258.00" y2="187.67" stroke="#2e1f4e" stroke-width="0.9" />
<line x1="256.60" y1="187.67" x2="259.40" y2="187.67" stroke="#2e1f4e" stroke-width="0.9" />
<line x1="256.60" y1="190.81" x2="259.40" y2="190.81" stroke="#2e1f4e" stroke-width="0.9" />
<circle cx="258.00" cy="189.24" r="1.6" fill="#2e1f4e"/>
<text x="258.00" y="202.30" font-size="7.5" text-anchor="middle" textLength="5.84" lengthAdjust="spacingAndGlyphs" fill="#262626" stroke="#262626" stroke-width="0.21749999999999997">**</text>
<line x1="180.00" y1="181.00" x2="190.00" y2="181.00" stroke="#2e1f4e" stroke-width="1.5" />
<circle cx="185.00" cy="181.00" r="1.5" fill="#2e1f4e"/>
<text x="192.20" y="183.10" font-size="6.0" text-anchor="start" textLength="32.10" lengthAdjust="spacingAndGlyphs" fill="#1e1e1e" stroke="#1e1e1e" stroke-width="0.14">Buffer control</text>
<line x1="180.00" y1="189.80" x2="190.00" y2="189.80" stroke="#ad1038" stroke-width="1.5" />
<rect x="183.50" y="188.30" width="3.00" height="3.00" fill="#ad1038" />
<text x="192.20" y="191.90" font-size="6.0" text-anchor="start" textLength="28.50" lengthAdjust="spacingAndGlyphs" fill="#1e1e1e" stroke="#1e1e1e" stroke-width="0.14">Heparitinase</text>
<text x="292.10" y="149.40" font-size="11.3" text-anchor="start" textLength="8.50" lengthAdjust="spacingAndGlyphs" fill="#0a0a0a" font-weight="bold" stroke="#0a0a0a" stroke-width="0.5">D</text>
<line x1="329.60" y1="158.05" x2="329.60" y2="245.35" stroke="#1a1a1a" stroke-width="1.15" />
<line x1="329.05" y1="244.80" x2="372.00" y2="244.80" stroke="#1a1a1a" stroke-width="1.15" />
<line x1="326.80" y1="244.80" x2="329.60" y2="244.80" stroke="#1a1a1a" stroke-width="1.0" />
<text x="323.90" y="247.03" font-size="6.2" text-anchor="end" textLength="3.45" lengthAdjust="spacingAndGlyphs" fill="#262626" stroke="#262626" stroke-width="0.15899999999999997">0</text>
<line x1="326.80" y1="216.07" x2="329.60" y2="216.07" stroke="#1a1a1a" stroke-width="1.0" />
<text x="323.90" y="218.30" font-size="6.2" text-anchor="end" textLength="6.90" lengthAdjust="spacingAndGlyphs" fill="#262626" stroke="#262626" stroke-width="0.15899999999999997">10</text>
<line x1="326.80" y1="187.33" x2="329.60" y2="187.33" stroke="#1a1a1a" stroke-width="1.0" />
<text x="323.90" y="189.57" font-size="6.2" text-anchor="end" textLength="6.90" lengthAdjust="spacingAndGlyphs" fill="#262626" stroke="#262626" stroke-width="0.15899999999999997">20</text>
<line x1="326.80" y1="158.60" x2="329.60" y2="158.60" stroke="#1a1a1a" stroke-width="1.0" />
<text x="323.90" y="160.83" font-size="6.2" text-anchor="end" textLength="6.90" lengthAdjust="spacingAndGlyphs" fill="#262626" stroke="#262626" stroke-width="0.15899999999999997">30</text>
<line x1="351.00" y1="244.80" x2="351.00" y2="247.40" stroke="#1a1a1a" stroke-width="1.0" />
<text x="350.80" y="152.00" font-size="8.4" text-anchor="middle" textLength="11.20" lengthAdjust="spacingAndGlyphs" fill="#262626" stroke="#262626" stroke-width="0.258">LP1</text>
<text transform="translate(311.50,229.20) rotate(-90)" font-size="7.2" text-anchor="start" textLength="57.20" lengthAdjust="spacingAndGlyphs" fill="#262626" stroke="#262626" stroke-width="0.1">% of apoptosis cells</text>
<line x1="340.55" y1="193.22" x2="340.55" y2="186.62" stroke="#1a1a1a" stroke-width="1.0" />
<line x1="337.05" y1="186.62" x2="344.05" y2="186.62" stroke="#1a1a1a" stroke-width="1.0" />
<rect x="333.30" y="193.22" width="14.50" height="51.58" fill="#bb0632" stroke="#6e0a22" stroke-width="0.7" />
<line x1="362.10" y1="179.29" x2="362.10" y2="171.82" stroke="#1a1a1a" stroke-width="1.0" />
<line x1="358.60" y1="171.82" x2="365.60" y2="171.82" stroke="#1a1a1a" stroke-width="1.0" />
<rect x="355.00" y="179.29" width="14.20" height="65.51" fill="#2d5495" stroke="#1b3560" stroke-width="0.7" />
<polyline points="339.20,169.40 339.20,167.40 360.80,167.40 360.80,169.40" fill="none" stroke="#1a1a1a" stroke-width="0.9" stroke-linejoin="round" stroke-linejoin="miter"/>
<text x="350.00" y="165.60" font-size="6.6" text-anchor="middle" textLength="6.97" lengthAdjust="spacingAndGlyphs" fill="#262626" stroke="#262626" stroke-width="0.177">ns</text>
<text x="319.00" y="256.50" font-size="6.4" text-anchor="start" textLength="10.40" lengthAdjust="spacingAndGlyphs" fill="#262626" stroke="#262626" stroke-width="0.16799999999999998">Dox</text>
<text x="340.60" y="256.50" font-size="6.4" text-anchor="middle" textLength="2.13" lengthAdjust="spacingAndGlyphs" fill="#262626" stroke="#262626" stroke-width="0.16799999999999998">-</text>
<text x="362.00" y="256.50" font-size="6.4" text-anchor="middle" textLength="3.74" lengthAdjust="spacingAndGlyphs" fill="#262626" stroke="#262626" stroke-width="0.16799999999999998">+</text>
<line x1="412.60" y1="159.05" x2="412.60" y2="245.45" stroke="#1a1a1a" stroke-width="1.15" />
<line x1="412.05" y1="244.90" x2="458.00" y2="244.90" stroke="#1a1a1a" stroke-width="1.15" />
<line x1="409.80" y1="244.90" x2="412.60" y2="244.90" stroke="#1a1a1a" stroke-width="1.0" />
<text x="406.90" y="247.13" font-size="6.2" text-anchor="end" textLength="3.45" lengthAdjust="spacingAndGlyphs" fill="#262626" stroke="#262626" stroke-width="0.15899999999999997">0</text>
<line x1="409.80" y1="227.84" x2="412.60" y2="227.84" stroke="#1a1a1a" stroke-width="1.0" />
<text x="406.90" y="230.07" font-size="6.2" text-anchor="end" textLength="3.45" lengthAdjust="spacingAndGlyphs" fill="#262626" stroke="#262626" stroke-width="0.15899999999999997">5</text>
<line x1="409.80" y1="210.78" x2="412.60" y2="210.78" stroke="#1a1a1a" stroke-width="1.0" />
<text x="406.90" y="213.01" font-size="6.2" text-anchor="end" textLength="6.90" lengthAdjust="spacingAndGlyphs" fill="#262626" stroke="#262626" stroke-width="0.15899999999999997">10</text>
<line x1="409.80" y1="193.72" x2="412.60" y2="193.72" stroke="#1a1a1a" stroke-width="1.0" />
<text x="406.90" y="195.95" font-size="6.2" text-anchor="end" textLength="6.90" lengthAdjust="spacingAndGlyphs" fill="#262626" stroke="#262626" stroke-width="0.15899999999999997">15</text>
<line x1="409.80" y1="176.66" x2="412.60" y2="176.66" stroke="#1a1a1a" stroke-width="1.0" />
<text x="406.90" y="178.89" font-size="6.2" text-anchor="end" textLength="6.90" lengthAdjust="spacingAndGlyphs" fill="#262626" stroke="#262626" stroke-width="0.15899999999999997">20</text>
<line x1="409.80" y1="159.60" x2="412.60" y2="159.60" stroke="#1a1a1a" stroke-width="1.0" />
<text x="406.90" y="161.83" font-size="6.2" text-anchor="end" textLength="6.90" lengthAdjust="spacingAndGlyphs" fill="#262626" stroke="#262626" stroke-width="0.15899999999999997">25</text>
<line x1="435.80" y1="244.90" x2="435.80" y2="247.50" stroke="#1a1a1a" stroke-width="1.0" />
<text x="436.00" y="152.20" font-size="8.4" text-anchor="middle" textLength="17.00" lengthAdjust="spacingAndGlyphs" fill="#262626" stroke="#262626" stroke-width="0.258">LME1</text>
<text transform="translate(394.70,229.60) rotate(-90)" font-size="7.2" text-anchor="start" textLength="57.20" lengthAdjust="spacingAndGlyphs" fill="#262626" stroke="#262626" stroke-width="0.1">% of apoptosis cells</text>
<line x1="424.50" y1="187.58" x2="424.50" y2="175.98" stroke="#1a1a1a" stroke-width="1.0" />
<line x1="421.00" y1="175.98" x2="428.00" y2="175.98" stroke="#1a1a1a" stroke-width="1.0" />
<rect x="417.00" y="187.58" width="15.00" height="57.32" fill="#bb0632" stroke="#6e0a22" stroke-width="0.7" />
<line x1="447.00" y1="180.07" x2="447.00" y2="175.64" stroke="#1a1a1a" stroke-width="1.0" />
<line x1="443.50" y1="175.64" x2="450.50" y2="175.64" stroke="#1a1a1a" stroke-width="1.0" />
<rect x="439.50" y="180.07" width="15.00" height="64.83" fill="#2d5495" stroke="#1b3560" stroke-width="0.7" />
<polyline points="424.00,169.00 424.00,167.00 447.00,167.00 447.00,169.00" fill="none" stroke="#1a1a1a" stroke-width="0.9" stroke-linejoin="round" stroke-linejoin="miter"/>
<text x="435.50" y="165.20" font-size="6.6" text-anchor="middle" textLength="6.97" lengthAdjust="spacingAndGlyphs" fill="#262626" stroke="#262626" stroke-width="0.177">ns</text>
<text x="402.50" y="256.50" font-size="6.4" text-anchor="start" textLength="10.40" lengthAdjust="spacingAndGlyphs" fill="#262626" stroke="#262626" stroke-width="0.16799999999999998">Dox</text>
<text x="425.00" y="256.50" font-size="6.4" text-anchor="middle" textLength="2.13" lengthAdjust="spacingAndGlyphs" fill="#262626" stroke="#262626" stroke-width="0.16799999999999998">-</text>
<text x="447.00" y="256.50" font-size="6.4" text-anchor="middle" textLength="3.74" lengthAdjust="spacingAndGlyphs" fill="#262626" stroke="#262626" stroke-width="0.16799999999999998">+</text>
<text x="7.30" y="289.20" font-size="11.3" text-anchor="start" textLength="7.30" lengthAdjust="spacingAndGlyphs" fill="#0a0a0a" font-weight="bold" stroke="#0a0a0a" stroke-width="0.5">E</text>
<text x="97.50" y="300.00" font-size="8.2" text-anchor="middle" textLength="41.00" lengthAdjust="spacingAndGlyphs" fill="#262626" stroke="#262626" stroke-width="0.3">LP1shEXT1</text>
<text x="54.80" y="311.50" font-size="7.9" text-anchor="middle" textLength="16.60" lengthAdjust="spacingAndGlyphs" fill="#262626" stroke="#262626" stroke-width="0.28">Dox-</text>
<text x="139.00" y="311.50" font-size="7.9" text-anchor="middle" textLength="18.00" lengthAdjust="spacingAndGlyphs" fill="#262626" stroke="#262626" stroke-width="0.28">Dox+</text>
<g clip-path="url(#clip0)">
<ellipse cx="28.00" cy="368.00" rx="8.00" ry="15.00" fill="#aebfe8" opacity="0.5" filter="url(#b2_2)"/>
<path d="M 21.00 378.00 L 27.00 369.00 L 33.00 362.00 L 37.00 360.00" fill="none" stroke="#7f9ad8" stroke-width="3.5" stroke-linecap="round" stroke-linejoin="round" opacity="0.55" filter="url(#b1_2)"/>
<ellipse cx="24.00" cy="360.00" rx="2.00" ry="1.50" fill="#8aa2dc" opacity="0.3" filter="url(#b0_9)"/>
<ellipse cx="30.00" cy="374.00" rx="2.00" ry="1.50" fill="#8aa2dc" opacity="0.3" filter="url(#b0_9)"/>
<ellipse cx="26.00" cy="380.00" rx="2.00" ry="1.50" fill="#8aa2dc" opacity="0.3" filter="url(#b0_9)"/>
<ellipse cx="33.00" cy="368.00" rx="2.00" ry="1.50" fill="#8aa2dc" opacity="0.3" filter="url(#b0_9)"/>
<ellipse cx="22.00" cy="370.00" rx="2.00" ry="1.50" fill="#8aa2dc" opacity="0.3" filter="url(#b0_9)"/>
<ellipse cx="28.00" cy="356.00" rx="2.00" ry="1.50" fill="#8aa2dc" opacity="0.3" filter="url(#b0_9)"/>
<ellipse cx="33.00" cy="331.00" rx="8.00" ry="3.00" fill="#aebfe8" opacity="0.35" filter="url(#b2_0)"/>
<ellipse cx="84.00" cy="330.00" rx="9.00" ry="2.50" fill="#aebfe8" opacity="0.4" filter="url(#b1_8)"/>
<ellipse cx="58.00" cy="362.00" rx="8.00" ry="7.00" fill="#aebfe8" opacity="0.25" filter="url(#b2_5)"/>
<path d="M 44.00 345.00 L 44.50 352.00" fill="none" stroke="#aebfe8" stroke-width="3" stroke-linecap="round" stroke-linejoin="round" opacity="0.6" filter="url(#b1_0)"/>
<path d="M 72.20 343.00 L 70.60 352.00" fill="none" stroke="#4a86c8" stroke-width="3" stroke-linecap="round" stroke-linejoin="round" opacity="0.55" filter="url(#b1_0)"/>
<path d="M 44.20 341.70 L 46.00 338.40 L 51.00 336.20 L 60.00 334.60 L 68.00 333.70 L 71.00 334.20" fill="none" stroke="#8fa8e0" stroke-width="6" stroke-linecap="round" stroke-linejoin="round" opacity="0.45" filter="url(#b1_3)"/>
<path d="M 44.20 337.70 L 46.00 334.40 L 51.00 332.20 L 60.00 330.60 L 68.00 329.70 L 71.00 330.20" fill="none" stroke="#a9c2ea" stroke-width="9.5" stroke-linecap="round" stroke-linejoin="round" opacity="0.6" filter="url(#b1_2)"/>
<path d="M 71.50 331.00 L 72.80 334.00 L 73.00 342.50" fill="none" stroke="#3a6bc2" stroke-width="4.2" stroke-linecap="round" stroke-linejoin="round" opacity="0.75" filter="url(#b0_9)"/>
<path d="M 44.00 336.00 L 43.80 341.50" fill="none" stroke="#3a6bc2" stroke-width="3.6" stroke-linecap="round" stroke-linejoin="round" opacity="0.6" filter="url(#b0_9)"/>
<path d="M 44.20 339.80 L 46.00 336.50 L 51.00 334.30 L 60.00 332.70 L 68.00 331.80 L 71.00 332.30" fill="none" stroke="#3a6bc2" stroke-width="7.4" stroke-linecap="round" stroke-linejoin="round" opacity="0.9" filter="url(#b0_8)"/>
<path d="M 44.20 337.80 L 46.00 334.50 L 51.00 332.30 L 60.00 330.70 L 68.00 329.80 L 71.00 330.30" fill="none" stroke="#4fb85e" stroke-width="4.2" stroke-linecap="round" stroke-linejoin="round" opacity="0.95" filter="url(#b0_55)"/>
<ellipse cx="44.30" cy="367.50" rx="3.00" ry="12.00" fill="#4a86c8" opacity="0.8" filter="url(#b1_2)"/>
<ellipse cx="44.30" cy="367.00" rx="2.00" ry="6.50" fill="#5bbd4c" opacity="0.95" filter="url(#b0_8)"/>
<ellipse cx="44.30" cy="366.50" rx="1.10" ry="3.00" fill="#d6e23c" opacity="1.0" filter="url(#b0_5)"/>
<ellipse cx="70.40" cy="361.50" rx="3.60" ry="6.50" fill="#4a86c8" opacity="0.85" filter="url(#b1_1)"/>
<ellipse cx="70.40" cy="361.00" rx="1.80" ry="3.50" fill="#3a8cc0" opacity="0.8" filter="url(#b0_8)"/>
</g>
<rect x="41.30" y="327.30" width="34.70" height="16.00" fill="none" stroke="#2a2a2a" stroke-width="0.85" />
<rect x="18.00" y="347.80" width="19.30" height="38.00" fill="none" stroke="#2a2a2a" stroke-width="0.85" />
<rect x="39.80" y="352.30" width="10.80" height="33.20" fill="none" stroke="#2a2a2a" stroke-width="0.85" />
<rect x="66.10" y="352.40" width="11.10" height="19.00" fill="none" stroke="#2a2a2a" stroke-width="0.85" />
<rect x="17.80" y="315.80" width="74.70" height="74.00" fill="none" stroke="#111" stroke-width="1.3" />
<line x1="14.80" y1="388.80" x2="17.80" y2="388.80" stroke="#111" stroke-width="0.9" />
<line x1="15.80" y1="384.60" x2="17.80" y2="384.60" stroke="#111" stroke-width="0.9" />
<line x1="15.80" y1="382.14" x2="17.80" y2="382.14" stroke="#111" stroke-width="0.9" />
<line x1="15.80" y1="380.39" x2="17.80" y2="380.39" stroke="#111" stroke-width="0.9" />
<line x1="15.80" y1="379.04" x2="17.80" y2="379.04" stroke="#111" stroke-width="0.9" />
<line x1="15.80" y1="377.94" x2="17.80" y2="377.94" stroke="#111" stroke-width="0.9" />
<line x1="15.80" y1="377.00" x2="17.80" y2="377.00" stroke="#111" stroke-width="0.9" />
<line x1="15.80" y1="376.19" x2="17.80" y2="376.19" stroke="#111" stroke-width="0.9" />
<line x1="15.80" y1="375.48" x2="17.80" y2="375.48" stroke="#111" stroke-width="0.9" />
<line x1="14.80" y1="374.84" x2="17.80" y2="374.84" stroke="#111" stroke-width="0.9" />
<line x1="15.80" y1="370.63" x2="17.80" y2="370.63" stroke="#111" stroke-width="0.9" />
<line x1="15.80" y1="368.18" x2="17.80" y2="368.18" stroke="#111" stroke-width="0.9" />
<line x1="15.80" y1="366.43" x2="17.80" y2="366.43" stroke="#111" stroke-width="0.9" />
<line x1="15.80" y1="365.08" x2="17.80" y2="365.08" stroke="#111" stroke-width="0.9" />
<line x1="15.80" y1="363.97" x2="17.80" y2="363.97" stroke="#111" stroke-width="0.9" />
<line x1="15.80" y1="363.04" x2="17.80" y2="363.04" stroke="#111" stroke-width="0.9" />
<line x1="15.80" y1="362.23" x2="17.80" y2="362.23" stroke="#111" stroke-width="0.9" />
<line x1="15.80" y1="361.51" x2="17.80" y2="361.51" stroke="#111" stroke-width="0.9" />
<line x1="14.80" y1="360.88" x2="17.80" y2="360.88" stroke="#111" stroke-width="0.9" />
<line x1="15.80" y1="356.67" x2="17.80" y2="356.67" stroke="#111" stroke-width="0.9" />
<line x1="15.80" y1="354.21" x2="17.80" y2="354.21" stroke="#111" stroke-width="0.9" />
<line x1="15.80" y1="352.47" x2="17.80" y2="352.47" stroke="#111" stroke-width="0.9" />
<line x1="15.80" y1="351.12" x2="17.80" y2="351.12" stroke="#111" stroke-width="0.9" />
<line x1="15.80" y1="350.01" x2="17.80" y2="350.01" stroke="#111" stroke-width="0.9" />
<line x1="15.80" y1="349.08" x2="17.80" y2="349.08" stroke="#111" stroke-width="0.9" />
<line x1="15.80" y1="348.27" x2="17.80" y2="348.27" stroke="#111" stroke-width="0.9" />
<line x1="15.80" y1="347.55" x2="17.80" y2="347.55" stroke="#111" stroke-width="0.9" />
<line x1="14.80" y1="346.91" x2="17.80" y2="346.91" stroke="#111" stroke-width="0.9" />
<line x1="15.80" y1="342.71" x2="17.80" y2="342.71" stroke="#111" stroke-width="0.9" />
<line x1="15.80" y1="340.25" x2="17.80" y2="340.25" stroke="#111" stroke-width="0.9" />
<line x1="15.80" y1="338.51" x2="17.80" y2="338.51" stroke="#111" stroke-width="0.9" />
<line x1="15.80" y1="337.15" x2="17.80" y2="337.15" stroke="#111" stroke-width="0.9" />
<line x1="15.80" y1="336.05" x2="17.80" y2="336.05" stroke="#111" stroke-width="0.9" />
<line x1="15.80" y1="335.11" x2="17.80" y2="335.11" stroke="#111" stroke-width="0.9" />
<line x1="15.80" y1="334.30" x2="17.80" y2="334.30" stroke="#111" stroke-width="0.9" />
<line x1="15.80" y1="333.59" x2="17.80" y2="333.59" stroke="#111" stroke-width="0.9" />
<line x1="14.80" y1="332.95" x2="17.80" y2="332.95" stroke="#111" stroke-width="0.9" />
<line x1="15.80" y1="328.75" x2="17.80" y2="328.75" stroke="#111" stroke-width="0.9" />
<line x1="15.80" y1="326.29" x2="17.80" y2="326.29" stroke="#111" stroke-width="0.9" />
<line x1="15.80" y1="324.54" x2="17.80" y2="324.54" stroke="#111" stroke-width="0.9" />
<line x1="15.80" y1="323.19" x2="17.80" y2="323.19" stroke="#111" stroke-width="0.9" />
<line x1="15.80" y1="322.09" x2="17.80" y2="322.09" stroke="#111" stroke-width="0.9" />
<line x1="15.80" y1="321.15" x2="17.80" y2="321.15" stroke="#111" stroke-width="0.9" />
<line x1="15.80" y1="320.34" x2="17.80" y2="320.34" stroke="#111" stroke-width="0.9" />
<line x1="15.80" y1="319.63" x2="17.80" y2="319.63" stroke="#111" stroke-width="0.9" />
<line x1="14.80" y1="318.99" x2="17.80" y2="318.99" stroke="#111" stroke-width="0.9" />
<line x1="18.60" y1="389.80" x2="18.60" y2="392.80" stroke="#111" stroke-width="0.9" />
<line x1="22.84" y1="389.80" x2="22.84" y2="391.80" stroke="#111" stroke-width="0.9" />
<line x1="25.32" y1="389.80" x2="25.32" y2="391.80" stroke="#111" stroke-width="0.9" />
<line x1="27.09" y1="389.80" x2="27.09" y2="391.80" stroke="#111" stroke-width="0.9" />
<line x1="28.45" y1="389.80" x2="28.45" y2="391.80" stroke="#111" stroke-width="0.9" />
<line x1="29.57" y1="389.80" x2="29.57" y2="391.80" stroke="#111" stroke-width="0.9" />
<line x1="30.51" y1="389.80" x2="30.51" y2="391.80" stroke="#111" stroke-width="0.9" />
<line x1="31.33" y1="389.80" x2="31.33" y2="391.80" stroke="#111" stroke-width="0.9" />
<line x1="32.05" y1="389.80" x2="32.05" y2="391.80" stroke="#111" stroke-width="0.9" />
<line x1="32.69" y1="389.80" x2="32.69" y2="392.80" stroke="#111" stroke-width="0.9" />
<line x1="36.94" y1="389.80" x2="36.94" y2="391.80" stroke="#111" stroke-width="0.9" />
<line x1="39.42" y1="389.80" x2="39.42" y2="391.80" stroke="#111" stroke-width="0.9" />
<line x1="41.18" y1="389.80" x2="41.18" y2="391.80" stroke="#111" stroke-width="0.9" />
<line x1="42.55" y1="389.80" x2="42.55" y2="391.80" stroke="#111" stroke-width="0.9" />
<line x1="43.66" y1="389.80" x2="43.66" y2="391.80" stroke="#111" stroke-width="0.9" />
<line x1="44.61" y1="389.80" x2="44.61" y2="391.80" stroke="#111" stroke-width="0.9" />
<line x1="45.42" y1="389.80" x2="45.42" y2="391.80" stroke="#111" stroke-width="0.9" />
<line x1="46.14" y1="389.80" x2="46.14" y2="391.80" stroke="#111" stroke-width="0.9" />
<line x1="46.79" y1="389.80" x2="46.79" y2="392.80" stroke="#111" stroke-width="0.9" />
<line x1="51.03" y1="389.80" x2="51.03" y2="391.80" stroke="#111" stroke-width="0.9" />
<line x1="53.51" y1="389.80" x2="53.51" y2="391.80" stroke="#111" stroke-width="0.9" />
<line x1="55.27" y1="389.80" x2="55.27" y2="391.80" stroke="#111" stroke-width="0.9" />
<line x1="56.64" y1="389.80" x2="56.64" y2="391.80" stroke="#111" stroke-width="0.9" />
<line x1="57.76" y1="389.80" x2="57.76" y2="391.80" stroke="#111" stroke-width="0.9" />
<line x1="58.70" y1="389.80" x2="58.70" y2="391.80" stroke="#111" stroke-width="0.9" />
<line x1="59.52" y1="389.80" x2="59.52" y2="391.80" stroke="#111" stroke-width="0.9" />
<line x1="60.24" y1="389.80" x2="60.24" y2="391.80" stroke="#111" stroke-width="0.9" />
<line x1="60.88" y1="389.80" x2="60.88" y2="392.80" stroke="#111" stroke-width="0.9" />
<line x1="65.13" y1="389.80" x2="65.13" y2="391.80" stroke="#111" stroke-width="0.9" />
<line x1="67.61" y1="389.80" x2="67.61" y2="391.80" stroke="#111" stroke-width="0.9" />
<line x1="69.37" y1="389.80" x2="69.37" y2="391.80" stroke="#111" stroke-width="0.9" />
<line x1="70.73" y1="389.80" x2="70.73" y2="391.80" stroke="#111" stroke-width="0.9" />
<line x1="71.85" y1="389.80" x2="71.85" y2="391.80" stroke="#111" stroke-width="0.9" />
<line x1="72.79" y1="389.80" x2="72.79" y2="391.80" stroke="#111" stroke-width="0.9" />
<line x1="73.61" y1="389.80" x2="73.61" y2="391.80" stroke="#111" stroke-width="0.9" />
<line x1="74.33" y1="389.80" x2="74.33" y2="391.80" stroke="#111" stroke-width="0.9" />
<line x1="74.98" y1="389.80" x2="74.98" y2="392.80" stroke="#111" stroke-width="0.9" />
<line x1="79.22" y1="389.80" x2="79.22" y2="391.80" stroke="#111" stroke-width="0.9" />
<line x1="81.70" y1="389.80" x2="81.70" y2="391.80" stroke="#111" stroke-width="0.9" />
<line x1="83.46" y1="389.80" x2="83.46" y2="391.80" stroke="#111" stroke-width="0.9" />
<line x1="84.83" y1="389.80" x2="84.83" y2="391.80" stroke="#111" stroke-width="0.9" />
<line x1="85.94" y1="389.80" x2="85.94" y2="391.80" stroke="#111" stroke-width="0.9" />
<line x1="86.89" y1="389.80" x2="86.89" y2="391.80" stroke="#111" stroke-width="0.9" />
<line x1="87.71" y1="389.80" x2="87.71" y2="391.80" stroke="#111" stroke-width="0.9" />
<line x1="88.43" y1="389.80" x2="88.43" y2="391.80" stroke="#111" stroke-width="0.9" />
<line x1="89.07" y1="389.80" x2="89.07" y2="392.80" stroke="#111" stroke-width="0.9" />
<text x="47.60" y="325.40" font-size="5.6" text-anchor="start" textLength="2.90" lengthAdjust="spacingAndGlyphs" fill="#222" stroke="#222" stroke-width="0.1">S</text>
<text x="54.80" y="325.40" font-size="5.6" text-anchor="start" textLength="14.80" lengthAdjust="spacingAndGlyphs" fill="#222" stroke="#222" stroke-width="0.1">43.0%</text>
<text x="20.20" y="339.80" font-size="5.6" text-anchor="start" textLength="14.60" lengthAdjust="spacingAndGlyphs" fill="#222" stroke="#222" stroke-width="0.1">subG1</text>
<text x="20.20" y="345.50" font-size="5.6" text-anchor="start" textLength="14.00" lengthAdjust="spacingAndGlyphs" fill="#222" stroke="#222" stroke-width="0.1">4.71%</text>
<text x="52.30" y="381.40" font-size="5.6" text-anchor="start" textLength="6.30" lengthAdjust="spacingAndGlyphs" fill="#222" stroke="#222" stroke-width="0.1">G1</text>
<text x="52.30" y="387.30" font-size="5.6" text-anchor="start" textLength="14.30" lengthAdjust="spacingAndGlyphs" fill="#222" stroke="#222" stroke-width="0.1">36.3%</text>
<text x="74.00" y="381.40" font-size="5.6" text-anchor="start" textLength="6.30" lengthAdjust="spacingAndGlyphs" fill="#222" stroke="#222" stroke-width="0.1">G2</text>
<text x="74.00" y="387.30" font-size="5.6" text-anchor="start" textLength="14.30" lengthAdjust="spacingAndGlyphs" fill="#222" stroke="#222" stroke-width="0.1">5.25%</text>
<g clip-path="url(#clip1)">
<ellipse cx="112.00" cy="366.00" rx="9.00" ry="12.00" fill="#aebfe8" opacity="0.5" filter="url(#b2_2)"/>
<path d="M 104.00 364.00 L 112.00 362.50 L 120.00 361.00 L 124.00 360.50" fill="none" stroke="#4a86c8" stroke-width="4.5" stroke-linecap="round" stroke-linejoin="round" opacity="0.5" filter="url(#b1_4)"/>
<path d="M 134.00 360.00 L 150.00 358.50 L 176.00 357.50" fill="none" stroke="#aebfe8" stroke-width="3.5" stroke-linecap="round" stroke-linejoin="round" opacity="0.6" filter="url(#b1_4)"/>
<ellipse cx="118.00" cy="330.00" rx="8.00" ry="3.00" fill="#aebfe8" opacity="0.3" filter="url(#b2_0)"/>
<ellipse cx="169.00" cy="330.00" rx="8.00" ry="2.50" fill="#aebfe8" opacity="0.35" filter="url(#b1_8)"/>
<path d="M 129.20 339.20 L 132.00 336.40 L 137.00 334.60 L 143.00 333.80 L 150.00 333.70 L 155.00 334.20" fill="none" stroke="#8fa8e0" stroke-width="6" stroke-linecap="round" stroke-linejoin="round" opacity="0.5" filter="url(#b1_3)"/>
<path d="M 129.20 335.20 L 132.00 332.40 L 137.00 330.60 L 143.00 329.80 L 150.00 329.70 L 155.00 330.20" fill="none" stroke="#a9c2ea" stroke-width="9.5" stroke-linecap="round" stroke-linejoin="round" opacity="0.6" filter="url(#b1_2)"/>
<path d="M 155.50 331.00 L 158.30 334.00 L 159.20 339.00" fill="none" stroke="#3a6bc2" stroke-width="4.2" stroke-linecap="round" stroke-linejoin="round" opacity="0.75" filter="url(#b0_9)"/>
<path d="M 129.00 334.00 L 128.80 339.00" fill="none" stroke="#3a6bc2" stroke-width="3.6" stroke-linecap="round" stroke-linejoin="round" opacity="0.6" filter="url(#b0_9)"/>
<path d="M 129.20 337.30 L 132.00 334.50 L 137.00 332.70 L 143.00 331.90 L 150.00 331.80 L 155.00 332.30" fill="none" stroke="#3a6bc2" stroke-width="7.4" stroke-linecap="round" stroke-linejoin="round" opacity="0.9" filter="url(#b0_8)"/>
<path d="M 129.20 335.30 L 132.00 332.50 L 137.00 330.70 L 143.00 329.90 L 150.00 329.80 L 155.00 330.30" fill="none" stroke="#3fb29a" stroke-width="4.2" stroke-linecap="round" stroke-linejoin="round" opacity="0.85" filter="url(#b0_55)"/>
<ellipse cx="129.60" cy="362.00" rx="3.20" ry="8.50" fill="#4a86c8" opacity="0.75" filter="url(#b1_2)"/>
<ellipse cx="129.60" cy="362.00" rx="2.20" ry="5.00" fill="#5bbd4c" opacity="0.95" filter="url(#b0_9)"/>
<ellipse cx="129.60" cy="361.30" rx="1.20" ry="2.60" fill="#d6e23c" opacity="1.0" filter="url(#b0_6)"/>
<ellipse cx="156.50" cy="357.50" rx="4.20" ry="4.00" fill="#4a86c8" opacity="0.8" filter="url(#b1_2)"/>
<ellipse cx="156.50" cy="357.00" rx="2.40" ry="2.20" fill="#35a6a0" opacity="0.7" filter="url(#b0_8)"/>
</g>
<rect x="125.80" y="327.10" width="35.00" height="16.10" fill="none" stroke="#2a2a2a" stroke-width="0.85" />
<rect x="102.60" y="347.50" width="18.60" height="38.50" fill="none" stroke="#2a2a2a" stroke-width="0.85" />
<rect x="124.30" y="352.20" width="10.30" height="33.30" fill="none" stroke="#2a2a2a" stroke-width="0.85" />
<rect x="150.50" y="352.20" width="11.00" height="19.50" fill="none" stroke="#2a2a2a" stroke-width="0.85" />
<rect x="102.40" y="315.80" width="74.40" height="74.00" fill="none" stroke="#111" stroke-width="1.3" />
<line x1="99.40" y1="388.80" x2="102.40" y2="388.80" stroke="#111" stroke-width="0.9" />
<line x1="100.40" y1="384.60" x2="102.40" y2="384.60" stroke="#111" stroke-width="0.9" />
<line x1="100.40" y1="382.14" x2="102.40" y2="382.14" stroke="#111" stroke-width="0.9" />
<line x1="100.40" y1="380.39" x2="102.40" y2="380.39" stroke="#111" stroke-width="0.9" />
<line x1="100.40" y1="379.04" x2="102.40" y2="379.04" stroke="#111" stroke-width="0.9" />
<line x1="100.40" y1="377.94" x2="102.40" y2="377.94" stroke="#111" stroke-width="0.9" />
<line x1="100.40" y1="377.00" x2="102.40" y2="377.00" stroke="#111" stroke-width="0.9" />
<line x1="100.40" y1="376.19" x2="102.40" y2="376.19" stroke="#111" stroke-width="0.9" />
<line x1="100.40" y1="375.48" x2="102.40" y2="375.48" stroke="#111" stroke-width="0.9" />
<line x1="99.40" y1="374.84" x2="102.40" y2="374.84" stroke="#111" stroke-width="0.9" />
<line x1="100.40" y1="370.63" x2="102.40" y2="370.63" stroke="#111" stroke-width="0.9" />
<line x1="100.40" y1="368.18" x2="102.40" y2="368.18" stroke="#111" stroke-width="0.9" />
<line x1="100.40" y1="366.43" x2="102.40" y2="366.43" stroke="#111" stroke-width="0.9" />
<line x1="100.40" y1="365.08" x2="102.40" y2="365.08" stroke="#111" stroke-width="0.9" />
<line x1="100.40" y1="363.97" x2="102.40" y2="363.97" stroke="#111" stroke-width="0.9" />
<line x1="100.40" y1="363.04" x2="102.40" y2="363.04" stroke="#111" stroke-width="0.9" />
<line x1="100.40" y1="362.23" x2="102.40" y2="362.23" stroke="#111" stroke-width="0.9" />
<line x1="100.40" y1="361.51" x2="102.40" y2="361.51" stroke="#111" stroke-width="0.9" />
<line x1="99.40" y1="360.88" x2="102.40" y2="360.88" stroke="#111" stroke-width="0.9" />
<line x1="100.40" y1="356.67" x2="102.40" y2="356.67" stroke="#111" stroke-width="0.9" />
<line x1="100.40" y1="354.21" x2="102.40" y2="354.21" stroke="#111" stroke-width="0.9" />
<line x1="100.40" y1="352.47" x2="102.40" y2="352.47" stroke="#111" stroke-width="0.9" />
<line x1="100.40" y1="351.12" x2="102.40" y2="351.12" stroke="#111" stroke-width="0.9" />
<line x1="100.40" y1="350.01" x2="102.40" y2="350.01" stroke="#111" stroke-width="0.9" />
<line x1="100.40" y1="349.08" x2="102.40" y2="349.08" stroke="#111" stroke-width="0.9" />
<line x1="100.40" y1="348.27" x2="102.40" y2="348.27" stroke="#111" stroke-width="0.9" />
<line x1="100.40" y1="347.55" x2="102.40" y2="347.55" stroke="#111" stroke-width="0.9" />
<line x1="99.40" y1="346.91" x2="102.40" y2="346.91" stroke="#111" stroke-width="0.9" />
<line x1="100.40" y1="342.71" x2="102.40" y2="342.71" stroke="#111" stroke-width="0.9" />
<line x1="100.40" y1="340.25" x2="102.40" y2="340.25" stroke="#111" stroke-width="0.9" />
<line x1="100.40" y1="338.51" x2="102.40" y2="338.51" stroke="#111" stroke-width="0.9" />
<line x1="100.40" y1="337.15" x2="102.40" y2="337.15" stroke="#111" stroke-width="0.9" />
<line x1="100.40" y1="336.05" x2="102.40" y2="336.05" stroke="#111" stroke-width="0.9" />
<line x1="100.40" y1="335.11" x2="102.40" y2="335.11" stroke="#111" stroke-width="0.9" />
<line x1="100.40" y1="334.30" x2="102.40" y2="334.30" stroke="#111" stroke-width="0.9" />
<line x1="100.40" y1="333.59" x2="102.40" y2="333.59" stroke="#111" stroke-width="0.9" />
<line x1="99.40" y1="332.95" x2="102.40" y2="332.95" stroke="#111" stroke-width="0.9" />
<line x1="100.40" y1="328.75" x2="102.40" y2="328.75" stroke="#111" stroke-width="0.9" />
<line x1="100.40" y1="326.29" x2="102.40" y2="326.29" stroke="#111" stroke-width="0.9" />
<line x1="100.40" y1="324.54" x2="102.40" y2="324.54" stroke="#111" stroke-width="0.9" />
<line x1="100.40" y1="323.19" x2="102.40" y2="323.19" stroke="#111" stroke-width="0.9" />
<line x1="100.40" y1="322.09" x2="102.40" y2="322.09" stroke="#111" stroke-width="0.9" />
<line x1="100.40" y1="321.15" x2="102.40" y2="321.15" stroke="#111" stroke-width="0.9" />
<line x1="100.40" y1="320.34" x2="102.40" y2="320.34" stroke="#111" stroke-width="0.9" />
<line x1="100.40" y1="319.63" x2="102.40" y2="319.63" stroke="#111" stroke-width="0.9" />
<line x1="99.40" y1="318.99" x2="102.40" y2="318.99" stroke="#111" stroke-width="0.9" />
<line x1="103.20" y1="389.80" x2="103.20" y2="392.80" stroke="#111" stroke-width="0.9" />
<line x1="107.43" y1="389.80" x2="107.43" y2="391.80" stroke="#111" stroke-width="0.9" />
<line x1="109.90" y1="389.80" x2="109.90" y2="391.80" stroke="#111" stroke-width="0.9" />
<line x1="111.65" y1="389.80" x2="111.65" y2="391.80" stroke="#111" stroke-width="0.9" />
<line x1="113.01" y1="389.80" x2="113.01" y2="391.80" stroke="#111" stroke-width="0.9" />
<line x1="114.12" y1="389.80" x2="114.12" y2="391.80" stroke="#111" stroke-width="0.9" />
<line x1="115.06" y1="389.80" x2="115.06" y2="391.80" stroke="#111" stroke-width="0.9" />
<line x1="115.88" y1="389.80" x2="115.88" y2="391.80" stroke="#111" stroke-width="0.9" />
<line x1="116.60" y1="389.80" x2="116.60" y2="391.80" stroke="#111" stroke-width="0.9" />
<line x1="117.24" y1="389.80" x2="117.24" y2="392.80" stroke="#111" stroke-width="0.9" />
<line x1="121.46" y1="389.80" x2="121.46" y2="391.80" stroke="#111" stroke-width="0.9" />
<line x1="123.94" y1="389.80" x2="123.94" y2="391.80" stroke="#111" stroke-width="0.9" />
<line x1="125.69" y1="389.80" x2="125.69" y2="391.80" stroke="#111" stroke-width="0.9" />
<line x1="127.05" y1="389.80" x2="127.05" y2="391.80" stroke="#111" stroke-width="0.9" />
<line x1="128.16" y1="389.80" x2="128.16" y2="391.80" stroke="#111" stroke-width="0.9" />
<line x1="129.10" y1="389.80" x2="129.10" y2="391.80" stroke="#111" stroke-width="0.9" />
<line x1="129.92" y1="389.80" x2="129.92" y2="391.80" stroke="#111" stroke-width="0.9" />
<line x1="130.63" y1="389.80" x2="130.63" y2="391.80" stroke="#111" stroke-width="0.9" />
<line x1="131.28" y1="389.80" x2="131.28" y2="392.80" stroke="#111" stroke-width="0.9" />
<line x1="135.50" y1="389.80" x2="135.50" y2="391.80" stroke="#111" stroke-width="0.9" />
<line x1="137.97" y1="389.80" x2="137.97" y2="391.80" stroke="#111" stroke-width="0.9" />
<line x1="139.73" y1="389.80" x2="139.73" y2="391.80" stroke="#111" stroke-width="0.9" />
<line x1="141.09" y1="389.80" x2="141.09" y2="391.80" stroke="#111" stroke-width="0.9" />
<line x1="142.20" y1="389.80" x2="142.20" y2="391.80" stroke="#111" stroke-width="0.9" />
<line x1="143.14" y1="389.80" x2="143.14" y2="391.80" stroke="#111" stroke-width="0.9" />
<line x1="143.95" y1="389.80" x2="143.95" y2="391.80" stroke="#111" stroke-width="0.9" />
<line x1="144.67" y1="389.80" x2="144.67" y2="391.80" stroke="#111" stroke-width="0.9" />
<line x1="145.31" y1="389.80" x2="145.31" y2="392.80" stroke="#111" stroke-width="0.9" />
<line x1="149.54" y1="389.80" x2="149.54" y2="391.80" stroke="#111" stroke-width="0.9" />
<line x1="152.01" y1="389.80" x2="152.01" y2="391.80" stroke="#111" stroke-width="0.9" />
<line x1="153.76" y1="389.80" x2="153.76" y2="391.80" stroke="#111" stroke-width="0.9" />
<line x1="155.13" y1="389.80" x2="155.13" y2="391.80" stroke="#111" stroke-width="0.9" />
<line x1="156.24" y1="389.80" x2="156.24" y2="391.80" stroke="#111" stroke-width="0.9" />
<line x1="157.18" y1="389.80" x2="157.18" y2="391.80" stroke="#111" stroke-width="0.9" />
<line x1="157.99" y1="389.80" x2="157.99" y2="391.80" stroke="#111" stroke-width="0.9" />
<line x1="158.71" y1="389.80" x2="158.71" y2="391.80" stroke="#111" stroke-width="0.9" />
<line x1="159.35" y1="389.80" x2="159.35" y2="392.80" stroke="#111" stroke-width="0.9" />
<line x1="163.58" y1="389.80" x2="163.58" y2="391.80" stroke="#111" stroke-width="0.9" />
<line x1="166.05" y1="389.80" x2="166.05" y2="391.80" stroke="#111" stroke-width="0.9" />
<line x1="167.80" y1="389.80" x2="167.80" y2="391.80" stroke="#111" stroke-width="0.9" />
<line x1="169.16" y1="389.80" x2="169.16" y2="391.80" stroke="#111" stroke-width="0.9" />
<line x1="170.27" y1="389.80" x2="170.27" y2="391.80" stroke="#111" stroke-width="0.9" />
<line x1="171.21" y1="389.80" x2="171.21" y2="391.80" stroke="#111" stroke-width="0.9" />
<line x1="172.03" y1="389.80" x2="172.03" y2="391.80" stroke="#111" stroke-width="0.9" />
<line x1="172.75" y1="389.80" x2="172.75" y2="391.80" stroke="#111" stroke-width="0.9" />
<line x1="173.39" y1="389.80" x2="173.39" y2="392.80" stroke="#111" stroke-width="0.9" />
<text x="133.00" y="325.10" font-size="5.6" text-anchor="start" textLength="2.90" lengthAdjust="spacingAndGlyphs" fill="#222" stroke="#222" stroke-width="0.1">S</text>
<text x="139.70" y="325.10" font-size="5.6" text-anchor="start" textLength="14.90" lengthAdjust="spacingAndGlyphs" fill="#222" stroke="#222" stroke-width="0.1">21.7%</text>
<text x="103.80" y="339.40" font-size="5.6" text-anchor="start" textLength="14.60" lengthAdjust="spacingAndGlyphs" fill="#222" stroke="#222" stroke-width="0.1">subG1</text>
<text x="103.80" y="344.80" font-size="5.6" text-anchor="start" textLength="14.00" lengthAdjust="spacingAndGlyphs" fill="#222" stroke="#222" stroke-width="0.1">7.23%</text>
<text x="136.60" y="381.00" font-size="5.6" text-anchor="start" textLength="6.30" lengthAdjust="spacingAndGlyphs" fill="#222" stroke="#222" stroke-width="0.1">G1</text>
<text x="136.60" y="386.60" font-size="5.6" text-anchor="start" textLength="14.30" lengthAdjust="spacingAndGlyphs" fill="#222" stroke="#222" stroke-width="0.1">55.0%</text>
<text x="158.20" y="381.00" font-size="5.6" text-anchor="start" textLength="6.30" lengthAdjust="spacingAndGlyphs" fill="#222" stroke="#222" stroke-width="0.1">G2</text>
<text x="158.20" y="386.60" font-size="5.6" text-anchor="start" textLength="14.50" lengthAdjust="spacingAndGlyphs" fill="#222" stroke="#222" stroke-width="0.1">4.63%</text>
<text x="97.40" y="412.70" font-size="8.2" text-anchor="middle" textLength="49.10" lengthAdjust="spacingAndGlyphs" fill="#262626" stroke="#262626" stroke-width="0.3">LME1shEXT1</text>
<text x="55.00" y="424.20" font-size="7.9" text-anchor="middle" textLength="16.20" lengthAdjust="spacingAndGlyphs" fill="#262626" stroke="#262626" stroke-width="0.28">Dox-</text>
<text x="139.20" y="424.20" font-size="7.9" text-anchor="middle" textLength="17.50" lengthAdjust="spacingAndGlyphs" fill="#262626" stroke="#262626" stroke-width="0.28">Dox+</text>
<g clip-path="url(#clip2)">
<ellipse cx="25.00" cy="482.00" rx="6.00" ry="16.00" fill="#aebfe8" opacity="0.55" filter="url(#b2_0)"/>
<path d="M 22.00 472.00 L 22.00 495.00" fill="none" stroke="#4a86c8" stroke-width="2" stroke-linecap="round" stroke-linejoin="round" opacity="0.45" filter="url(#b0_9)"/>
<ellipse cx="32.00" cy="447.00" rx="6.00" ry="3.00" fill="#aebfe8" opacity="0.3" filter="url(#b2_0)"/>
<path d="M 78.00 449.00 L 92.00 446.00" fill="none" stroke="#aebfe8" stroke-width="4" stroke-linecap="round" stroke-linejoin="round" opacity="0.6" filter="url(#b1_2)"/>
<path d="M 45.00 458.00 L 45.00 470.00 L 46.00 492.00" fill="none" stroke="#4a86c8" stroke-width="3" stroke-linecap="round" stroke-linejoin="round" opacity="0.55" filter="url(#b1_0)"/>
<path d="M 74.00 458.00 L 73.50 472.00" fill="none" stroke="#4a86c8" stroke-width="3" stroke-linecap="round" stroke-linejoin="round" opacity="0.55" filter="url(#b1_0)"/>
<path d="M 45.80 459.00 L 48.00 455.70 L 53.00 453.70 L 62.00 452.40 L 70.00 451.40 L 74.00 451.50" fill="none" stroke="#8fa8e0" stroke-width="6" stroke-linecap="round" stroke-linejoin="round" opacity="0.45" filter="url(#b1_3)"/>
<path d="M 45.80 455.00 L 48.00 451.70 L 53.00 449.70 L 62.00 448.40 L 70.00 447.40 L 74.00 447.50" fill="none" stroke="#a9c2ea" stroke-width="9.5" stroke-linecap="round" stroke-linejoin="round" opacity="0.6" filter="url(#b1_2)"/>
<path d="M 74.30 448.50 L 75.20 451.00 L 75.00 460.00" fill="none" stroke="#3a6bc2" stroke-width="4.2" stroke-linecap="round" stroke-linejoin="round" opacity="0.75" filter="url(#b0_9)"/>
<path d="M 45.80 453.00 L 45.50 460.00" fill="none" stroke="#3a6bc2" stroke-width="3.6" stroke-linecap="round" stroke-linejoin="round" opacity="0.6" filter="url(#b0_9)"/>
<path d="M 45.80 457.10 L 48.00 453.80 L 53.00 451.80 L 62.00 450.50 L 70.00 449.50 L 74.00 449.60" fill="none" stroke="#3a6bc2" stroke-width="7.4" stroke-linecap="round" stroke-linejoin="round" opacity="0.9" filter="url(#b0_8)"/>
<path d="M 45.80 455.10 L 48.00 451.80 L 53.00 449.80 L 62.00 448.50 L 70.00 447.50 L 74.00 447.60" fill="none" stroke="#4fb85e" stroke-width="4.2" stroke-linecap="round" stroke-linejoin="round" opacity="0.95" filter="url(#b0_55)"/>
<ellipse cx="46.50" cy="487.00" rx="3.20" ry="10.00" fill="#4a86c8" opacity="0.8" filter="url(#b1_2)"/>
<ellipse cx="46.50" cy="488.00" rx="2.00" ry="6.00" fill="#5bbd4c" opacity="0.95" filter="url(#b0_9)"/>
<ellipse cx="46.50" cy="488.00" rx="1.10" ry="3.00" fill="#d6e23c" opacity="1.0" filter="url(#b0_6)"/>
<ellipse cx="73.00" cy="481.00" rx="3.50" ry="8.00" fill="#4a86c8" opacity="0.8" filter="url(#b1_1)"/>
<ellipse cx="73.00" cy="480.00" rx="1.80" ry="4.00" fill="#3c8fc0" opacity="0.7" filter="url(#b0_8)"/>
</g>
<rect x="42.40" y="441.60" width="35.40" height="19.60" fill="none" stroke="#2a2a2a" stroke-width="0.85" />
<rect x="17.50" y="464.40" width="20.90" height="36.10" fill="none" stroke="#2a2a2a" stroke-width="0.85" />
<rect x="41.90" y="470.10" width="10.50" height="30.00" fill="none" stroke="#2a2a2a" stroke-width="0.85" />
<rect x="67.30" y="472.10" width="11.20" height="18.30" fill="none" stroke="#2a2a2a" stroke-width="0.85" />
<rect x="17.30" y="428.90" width="74.90" height="74.90" fill="none" stroke="#111" stroke-width="1.3" />
<line x1="14.30" y1="502.80" x2="17.30" y2="502.80" stroke="#111" stroke-width="0.9" />
<line x1="15.30" y1="498.55" x2="17.30" y2="498.55" stroke="#111" stroke-width="0.9" />
<line x1="15.30" y1="496.06" x2="17.30" y2="496.06" stroke="#111" stroke-width="0.9" />
<line x1="15.30" y1="494.29" x2="17.30" y2="494.29" stroke="#111" stroke-width="0.9" />
<line x1="15.30" y1="492.92" x2="17.30" y2="492.92" stroke="#111" stroke-width="0.9" />
<line x1="15.30" y1="491.80" x2="17.30" y2="491.80" stroke="#111" stroke-width="0.9" />
<line x1="15.30" y1="490.86" x2="17.30" y2="490.86" stroke="#111" stroke-width="0.9" />
<line x1="15.30" y1="490.04" x2="17.30" y2="490.04" stroke="#111" stroke-width="0.9" />
<line x1="15.30" y1="489.31" x2="17.30" y2="489.31" stroke="#111" stroke-width="0.9" />
<line x1="14.30" y1="488.67" x2="17.30" y2="488.67" stroke="#111" stroke-width="0.9" />
<line x1="15.30" y1="484.41" x2="17.30" y2="484.41" stroke="#111" stroke-width="0.9" />
<line x1="15.30" y1="481.93" x2="17.30" y2="481.93" stroke="#111" stroke-width="0.9" />
<line x1="15.30" y1="480.16" x2="17.30" y2="480.16" stroke="#111" stroke-width="0.9" />
<line x1="15.30" y1="478.79" x2="17.30" y2="478.79" stroke="#111" stroke-width="0.9" />
<line x1="15.30" y1="477.67" x2="17.30" y2="477.67" stroke="#111" stroke-width="0.9" />
<line x1="15.30" y1="476.72" x2="17.30" y2="476.72" stroke="#111" stroke-width="0.9" />
<line x1="15.30" y1="475.91" x2="17.30" y2="475.91" stroke="#111" stroke-width="0.9" />
<line x1="15.30" y1="475.18" x2="17.30" y2="475.18" stroke="#111" stroke-width="0.9" />
<line x1="14.30" y1="474.54" x2="17.30" y2="474.54" stroke="#111" stroke-width="0.9" />
<line x1="15.30" y1="470.28" x2="17.30" y2="470.28" stroke="#111" stroke-width="0.9" />
<line x1="15.30" y1="467.79" x2="17.30" y2="467.79" stroke="#111" stroke-width="0.9" />
<line x1="15.30" y1="466.03" x2="17.30" y2="466.03" stroke="#111" stroke-width="0.9" />
<line x1="15.30" y1="464.66" x2="17.30" y2="464.66" stroke="#111" stroke-width="0.9" />
<line x1="15.30" y1="463.54" x2="17.30" y2="463.54" stroke="#111" stroke-width="0.9" />
<line x1="15.30" y1="462.59" x2="17.30" y2="462.59" stroke="#111" stroke-width="0.9" />
<line x1="15.30" y1="461.77" x2="17.30" y2="461.77" stroke="#111" stroke-width="0.9" />
<line x1="15.30" y1="461.05" x2="17.30" y2="461.05" stroke="#111" stroke-width="0.9" />
<line x1="14.30" y1="460.40" x2="17.30" y2="460.40" stroke="#111" stroke-width="0.9" />
<line x1="15.30" y1="456.15" x2="17.30" y2="456.15" stroke="#111" stroke-width="0.9" />
<line x1="15.30" y1="453.66" x2="17.30" y2="453.66" stroke="#111" stroke-width="0.9" />
<line x1="15.30" y1="451.90" x2="17.30" y2="451.90" stroke="#111" stroke-width="0.9" />
<line x1="15.30" y1="450.53" x2="17.30" y2="450.53" stroke="#111" stroke-width="0.9" />
<line x1="15.30" y1="449.41" x2="17.30" y2="449.41" stroke="#111" stroke-width="0.9" />
<line x1="15.30" y1="448.46" x2="17.30" y2="448.46" stroke="#111" stroke-width="0.9" />
<line x1="15.30" y1="447.64" x2="17.30" y2="447.64" stroke="#111" stroke-width="0.9" />
<line x1="15.30" y1="446.92" x2="17.30" y2="446.92" stroke="#111" stroke-width="0.9" />
<line x1="14.30" y1="446.27" x2="17.30" y2="446.27" stroke="#111" stroke-width="0.9" />
<line x1="15.30" y1="442.02" x2="17.30" y2="442.02" stroke="#111" stroke-width="0.9" />
<line x1="15.30" y1="439.53" x2="17.30" y2="439.53" stroke="#111" stroke-width="0.9" />
<line x1="15.30" y1="437.76" x2="17.30" y2="437.76" stroke="#111" stroke-width="0.9" />
<line x1="15.30" y1="436.39" x2="17.30" y2="436.39" stroke="#111" stroke-width="0.9" />
<line x1="15.30" y1="435.27" x2="17.30" y2="435.27" stroke="#111" stroke-width="0.9" />
<line x1="15.30" y1="434.33" x2="17.30" y2="434.33" stroke="#111" stroke-width="0.9" />
<line x1="15.30" y1="433.51" x2="17.30" y2="433.51" stroke="#111" stroke-width="0.9" />
<line x1="15.30" y1="432.79" x2="17.30" y2="432.79" stroke="#111" stroke-width="0.9" />
<line x1="14.30" y1="432.14" x2="17.30" y2="432.14" stroke="#111" stroke-width="0.9" />
<line x1="18.10" y1="503.80" x2="18.10" y2="506.80" stroke="#111" stroke-width="0.9" />
<line x1="22.35" y1="503.80" x2="22.35" y2="505.80" stroke="#111" stroke-width="0.9" />
<line x1="24.84" y1="503.80" x2="24.84" y2="505.80" stroke="#111" stroke-width="0.9" />
<line x1="26.61" y1="503.80" x2="26.61" y2="505.80" stroke="#111" stroke-width="0.9" />
<line x1="27.98" y1="503.80" x2="27.98" y2="505.80" stroke="#111" stroke-width="0.9" />
<line x1="29.10" y1="503.80" x2="29.10" y2="505.80" stroke="#111" stroke-width="0.9" />
<line x1="30.04" y1="503.80" x2="30.04" y2="505.80" stroke="#111" stroke-width="0.9" />
<line x1="30.86" y1="503.80" x2="30.86" y2="505.80" stroke="#111" stroke-width="0.9" />
<line x1="31.59" y1="503.80" x2="31.59" y2="505.80" stroke="#111" stroke-width="0.9" />
<line x1="32.23" y1="503.80" x2="32.23" y2="506.80" stroke="#111" stroke-width="0.9" />
<line x1="36.49" y1="503.80" x2="36.49" y2="505.80" stroke="#111" stroke-width="0.9" />
<line x1="38.97" y1="503.80" x2="38.97" y2="505.80" stroke="#111" stroke-width="0.9" />
<line x1="40.74" y1="503.80" x2="40.74" y2="505.80" stroke="#111" stroke-width="0.9" />
<line x1="42.11" y1="503.80" x2="42.11" y2="505.80" stroke="#111" stroke-width="0.9" />
<line x1="43.23" y1="503.80" x2="43.23" y2="505.80" stroke="#111" stroke-width="0.9" />
<line x1="44.18" y1="503.80" x2="44.18" y2="505.80" stroke="#111" stroke-width="0.9" />
<line x1="44.99" y1="503.80" x2="44.99" y2="505.80" stroke="#111" stroke-width="0.9" />
<line x1="45.72" y1="503.80" x2="45.72" y2="505.80" stroke="#111" stroke-width="0.9" />
<line x1="46.36" y1="503.80" x2="46.36" y2="506.80" stroke="#111" stroke-width="0.9" />
<line x1="50.62" y1="503.80" x2="50.62" y2="505.80" stroke="#111" stroke-width="0.9" />
<line x1="53.11" y1="503.80" x2="53.11" y2="505.80" stroke="#111" stroke-width="0.9" />
<line x1="54.87" y1="503.80" x2="54.87" y2="505.80" stroke="#111" stroke-width="0.9" />
<line x1="56.24" y1="503.80" x2="56.24" y2="505.80" stroke="#111" stroke-width="0.9" />
<line x1="57.36" y1="503.80" x2="57.36" y2="505.80" stroke="#111" stroke-width="0.9" />
<line x1="58.31" y1="503.80" x2="58.31" y2="505.80" stroke="#111" stroke-width="0.9" />
<line x1="59.13" y1="503.80" x2="59.13" y2="505.80" stroke="#111" stroke-width="0.9" />
<line x1="59.85" y1="503.80" x2="59.85" y2="505.80" stroke="#111" stroke-width="0.9" />
<line x1="60.50" y1="503.80" x2="60.50" y2="506.80" stroke="#111" stroke-width="0.9" />
<line x1="64.75" y1="503.80" x2="64.75" y2="505.80" stroke="#111" stroke-width="0.9" />
<line x1="67.24" y1="503.80" x2="67.24" y2="505.80" stroke="#111" stroke-width="0.9" />
<line x1="69.00" y1="503.80" x2="69.00" y2="505.80" stroke="#111" stroke-width="0.9" />
<line x1="70.37" y1="503.80" x2="70.37" y2="505.80" stroke="#111" stroke-width="0.9" />
<line x1="71.49" y1="503.80" x2="71.49" y2="505.80" stroke="#111" stroke-width="0.9" />
<line x1="72.44" y1="503.80" x2="72.44" y2="505.80" stroke="#111" stroke-width="0.9" />
<line x1="73.26" y1="503.80" x2="73.26" y2="505.80" stroke="#111" stroke-width="0.9" />
<line x1="73.98" y1="503.80" x2="73.98" y2="505.80" stroke="#111" stroke-width="0.9" />
<line x1="74.63" y1="503.80" x2="74.63" y2="506.80" stroke="#111" stroke-width="0.9" />
<line x1="78.88" y1="503.80" x2="78.88" y2="505.80" stroke="#111" stroke-width="0.9" />
<line x1="81.37" y1="503.80" x2="81.37" y2="505.80" stroke="#111" stroke-width="0.9" />
<line x1="83.14" y1="503.80" x2="83.14" y2="505.80" stroke="#111" stroke-width="0.9" />
<line x1="84.51" y1="503.80" x2="84.51" y2="505.80" stroke="#111" stroke-width="0.9" />
<line x1="85.63" y1="503.80" x2="85.63" y2="505.80" stroke="#111" stroke-width="0.9" />
<line x1="86.57" y1="503.80" x2="86.57" y2="505.80" stroke="#111" stroke-width="0.9" />
<line x1="87.39" y1="503.80" x2="87.39" y2="505.80" stroke="#111" stroke-width="0.9" />
<line x1="88.11" y1="503.80" x2="88.11" y2="505.80" stroke="#111" stroke-width="0.9" />
<line x1="88.76" y1="503.80" x2="88.76" y2="506.80" stroke="#111" stroke-width="0.9" />
<text x="45.00" y="439.30" font-size="5.6" text-anchor="start" textLength="2.90" lengthAdjust="spacingAndGlyphs" fill="#222" stroke="#222" stroke-width="0.1">S</text>
<text x="51.90" y="439.30" font-size="5.6" text-anchor="start" textLength="16.00" lengthAdjust="spacingAndGlyphs" fill="#222" stroke="#222" stroke-width="0.1">33.2%</text>
<text x="21.90" y="455.50" font-size="5.6" text-anchor="start" textLength="14.60" lengthAdjust="spacingAndGlyphs" fill="#222" stroke="#222" stroke-width="0.1">subG1</text>
<text x="21.90" y="461.20" font-size="5.6" text-anchor="start" textLength="14.00" lengthAdjust="spacingAndGlyphs" fill="#222" stroke="#222" stroke-width="0.1">19.0%</text>
<text x="54.20" y="495.50" font-size="5.6" text-anchor="start" textLength="6.30" lengthAdjust="spacingAndGlyphs" fill="#222" stroke="#222" stroke-width="0.1">G1</text>
<text x="54.20" y="501.60" font-size="5.6" text-anchor="start" textLength="14.30" lengthAdjust="spacingAndGlyphs" fill="#222" stroke="#222" stroke-width="0.1">33.9%</text>
<text x="75.00" y="495.50" font-size="5.6" text-anchor="start" textLength="6.30" lengthAdjust="spacingAndGlyphs" fill="#222" stroke="#222" stroke-width="0.1">G2</text>
<text x="72.70" y="501.60" font-size="5.6" text-anchor="start" textLength="14.50" lengthAdjust="spacingAndGlyphs" fill="#222" stroke="#222" stroke-width="0.1">7.02%</text>
<g clip-path="url(#clip3)">
<ellipse cx="110.00" cy="482.00" rx="6.00" ry="16.00" fill="#aebfe8" opacity="0.55" filter="url(#b2_0)"/>
<path d="M 108.00 472.00 L 108.00 496.00" fill="none" stroke="#4a86c8" stroke-width="2" stroke-linecap="round" stroke-linejoin="round" opacity="0.45" filter="url(#b0_9)"/>
<ellipse cx="117.00" cy="447.00" rx="6.00" ry="3.00" fill="#aebfe8" opacity="0.3" filter="url(#b2_0)"/>
<path d="M 163.00 449.00 L 177.00 446.00" fill="none" stroke="#aebfe8" stroke-width="4" stroke-linecap="round" stroke-linejoin="round" opacity="0.6" filter="url(#b1_2)"/>
<path d="M 130.00 458.00 L 130.00 470.00 L 131.00 492.00" fill="none" stroke="#4a86c8" stroke-width="3" stroke-linecap="round" stroke-linejoin="round" opacity="0.55" filter="url(#b1_0)"/>
<path d="M 158.00 458.00 L 158.00 472.00" fill="none" stroke="#4a86c8" stroke-width="3" stroke-linecap="round" stroke-linejoin="round" opacity="0.55" filter="url(#b1_0)"/>
<path d="M 130.80 459.00 L 133.00 455.70 L 138.00 453.70 L 147.00 452.40 L 155.00 451.40 L 159.00 451.50" fill="none" stroke="#8fa8e0" stroke-width="6" stroke-linecap="round" stroke-linejoin="round" opacity="0.45" filter="url(#b1_3)"/>
<path d="M 130.80 455.00 L 133.00 451.70 L 138.00 449.70 L 147.00 448.40 L 155.00 447.40 L 159.00 447.50" fill="none" stroke="#a9c2ea" stroke-width="9.5" stroke-linecap="round" stroke-linejoin="round" opacity="0.6" filter="url(#b1_2)"/>
<path d="M 159.30 448.50 L 160.20 451.00 L 160.00 460.00" fill="none" stroke="#3a6bc2" stroke-width="4.2" stroke-linecap="round" stroke-linejoin="round" opacity="0.75" filter="url(#b0_9)"/>
<path d="M 130.80 453.00 L 130.50 460.00" fill="none" stroke="#3a6bc2" stroke-width="3.6" stroke-linecap="round" stroke-linejoin="round" opacity="0.6" filter="url(#b0_9)"/>
<path d="M 130.80 457.10 L 133.00 453.80 L 138.00 451.80 L 147.00 450.50 L 155.00 449.50 L 159.00 449.60" fill="none" stroke="#3a6bc2" stroke-width="7.4" stroke-linecap="round" stroke-linejoin="round" opacity="0.9" filter="url(#b0_8)"/>
<path d="M 130.80 455.10 L 133.00 451.80 L 138.00 449.80 L 147.00 448.50 L 155.00 447.50 L 159.00 447.60" fill="none" stroke="#3aaa9a" stroke-width="4.2" stroke-linecap="round" stroke-linejoin="round" opacity="0.85" filter="url(#b0_55)"/>
<ellipse cx="131.00" cy="488.00" rx="3.00" ry="9.00" fill="#4a86c8" opacity="0.8" filter="url(#b1_2)"/>
<ellipse cx="131.00" cy="489.00" rx="1.90" ry="5.00" fill="#5bbd4c" opacity="0.95" filter="url(#b0_9)"/>
<ellipse cx="131.00" cy="489.50" rx="1.00" ry="2.60" fill="#d6e23c" opacity="0.9" filter="url(#b0_6)"/>
<ellipse cx="158.00" cy="481.00" rx="3.50" ry="8.00" fill="#4a86c8" opacity="0.8" filter="url(#b1_1)"/>
<ellipse cx="158.00" cy="480.00" rx="1.80" ry="4.00" fill="#35a6a0" opacity="0.6" filter="url(#b0_8)"/>
</g>
<rect x="127.40" y="441.60" width="35.40" height="19.60" fill="none" stroke="#2a2a2a" stroke-width="0.85" />
<rect x="102.50" y="464.40" width="20.60" height="35.70" fill="none" stroke="#2a2a2a" stroke-width="0.85" />
<rect x="126.50" y="470.10" width="10.90" height="30.00" fill="none" stroke="#2a2a2a" stroke-width="0.85" />
<rect x="152.30" y="472.10" width="11.10" height="18.30" fill="none" stroke="#2a2a2a" stroke-width="0.85" />
<rect x="102.30" y="428.90" width="74.90" height="74.90" fill="none" stroke="#111" stroke-width="1.3" />
<line x1="99.30" y1="502.80" x2="102.30" y2="502.80" stroke="#111" stroke-width="0.9" />
<line x1="100.30" y1="498.55" x2="102.30" y2="498.55" stroke="#111" stroke-width="0.9" />
<line x1="100.30" y1="496.06" x2="102.30" y2="496.06" stroke="#111" stroke-width="0.9" />
<line x1="100.30" y1="494.29" x2="102.30" y2="494.29" stroke="#111" stroke-width="0.9" />
<line x1="100.30" y1="492.92" x2="102.30" y2="492.92" stroke="#111" stroke-width="0.9" />
<line x1="100.30" y1="491.80" x2="102.30" y2="491.80" stroke="#111" stroke-width="0.9" />
<line x1="100.30" y1="490.86" x2="102.30" y2="490.86" stroke="#111" stroke-width="0.9" />
<line x1="100.30" y1="490.04" x2="102.30" y2="490.04" stroke="#111" stroke-width="0.9" />
<line x1="100.30" y1="489.31" x2="102.30" y2="489.31" stroke="#111" stroke-width="0.9" />
<line x1="99.30" y1="488.67" x2="102.30" y2="488.67" stroke="#111" stroke-width="0.9" />
<line x1="100.30" y1="484.41" x2="102.30" y2="484.41" stroke="#111" stroke-width="0.9" />
<line x1="100.30" y1="481.93" x2="102.30" y2="481.93" stroke="#111" stroke-width="0.9" />
<line x1="100.30" y1="480.16" x2="102.30" y2="480.16" stroke="#111" stroke-width="0.9" />
<line x1="100.30" y1="478.79" x2="102.30" y2="478.79" stroke="#111" stroke-width="0.9" />
<line x1="100.30" y1="477.67" x2="102.30" y2="477.67" stroke="#111" stroke-width="0.9" />
<line x1="100.30" y1="476.72" x2="102.30" y2="476.72" stroke="#111" stroke-width="0.9" />
<line x1="100.30" y1="475.91" x2="102.30" y2="475.91" stroke="#111" stroke-width="0.9" />
<line x1="100.30" y1="475.18" x2="102.30" y2="475.18" stroke="#111" stroke-width="0.9" />
<line x1="99.30" y1="474.54" x2="102.30" y2="474.54" stroke="#111" stroke-width="0.9" />
<line x1="100.30" y1="470.28" x2="102.30" y2="470.28" stroke="#111" stroke-width="0.9" />
<line x1="100.30" y1="467.79" x2="102.30" y2="467.79" stroke="#111" stroke-width="0.9" />
<line x1="100.30" y1="466.03" x2="102.30" y2="466.03" stroke="#111" stroke-width="0.9" />
<line x1="100.30" y1="464.66" x2="102.30" y2="464.66" stroke="#111" stroke-width="0.9" />
<line x1="100.30" y1="463.54" x2="102.30" y2="463.54" stroke="#111" stroke-width="0.9" />
<line x1="100.30" y1="462.59" x2="102.30" y2="462.59" stroke="#111" stroke-width="0.9" />
<line x1="100.30" y1="461.77" x2="102.30" y2="461.77" stroke="#111" stroke-width="0.9" />
<line x1="100.30" y1="461.05" x2="102.30" y2="461.05" stroke="#111" stroke-width="0.9" />
<line x1="99.30" y1="460.40" x2="102.30" y2="460.40" stroke="#111" stroke-width="0.9" />
<line x1="100.30" y1="456.15" x2="102.30" y2="456.15" stroke="#111" stroke-width="0.9" />
<line x1="100.30" y1="453.66" x2="102.30" y2="453.66" stroke="#111" stroke-width="0.9" />
<line x1="100.30" y1="451.90" x2="102.30" y2="451.90" stroke="#111" stroke-width="0.9" />
<line x1="100.30" y1="450.53" x2="102.30" y2="450.53" stroke="#111" stroke-width="0.9" />
<line x1="100.30" y1="449.41" x2="102.30" y2="449.41" stroke="#111" stroke-width="0.9" />
<line x1="100.30" y1="448.46" x2="102.30" y2="448.46" stroke="#111" stroke-width="0.9" />
<line x1="100.30" y1="447.64" x2="102.30" y2="447.64" stroke="#111" stroke-width="0.9" />
<line x1="100.30" y1="446.92" x2="102.30" y2="446.92" stroke="#111" stroke-width="0.9" />
<line x1="99.30" y1="446.27" x2="102.30" y2="446.27" stroke="#111" stroke-width="0.9" />
<line x1="100.30" y1="442.02" x2="102.30" y2="442.02" stroke="#111" stroke-width="0.9" />
<line x1="100.30" y1="439.53" x2="102.30" y2="439.53" stroke="#111" stroke-width="0.9" />
<line x1="100.30" y1="437.76" x2="102.30" y2="437.76" stroke="#111" stroke-width="0.9" />
<line x1="100.30" y1="436.39" x2="102.30" y2="436.39" stroke="#111" stroke-width="0.9" />
<line x1="100.30" y1="435.27" x2="102.30" y2="435.27" stroke="#111" stroke-width="0.9" />
<line x1="100.30" y1="434.33" x2="102.30" y2="434.33" stroke="#111" stroke-width="0.9" />
<line x1="100.30" y1="433.51" x2="102.30" y2="433.51" stroke="#111" stroke-width="0.9" />
<line x1="100.30" y1="432.79" x2="102.30" y2="432.79" stroke="#111" stroke-width="0.9" />
<line x1="99.30" y1="432.14" x2="102.30" y2="432.14" stroke="#111" stroke-width="0.9" />
<line x1="103.10" y1="503.80" x2="103.10" y2="506.80" stroke="#111" stroke-width="0.9" />
<line x1="107.35" y1="503.80" x2="107.35" y2="505.80" stroke="#111" stroke-width="0.9" />
<line x1="109.84" y1="503.80" x2="109.84" y2="505.80" stroke="#111" stroke-width="0.9" />
<line x1="111.61" y1="503.80" x2="111.61" y2="505.80" stroke="#111" stroke-width="0.9" />
<line x1="112.98" y1="503.80" x2="112.98" y2="505.80" stroke="#111" stroke-width="0.9" />
<line x1="114.10" y1="503.80" x2="114.10" y2="505.80" stroke="#111" stroke-width="0.9" />
<line x1="115.04" y1="503.80" x2="115.04" y2="505.80" stroke="#111" stroke-width="0.9" />
<line x1="115.86" y1="503.80" x2="115.86" y2="505.80" stroke="#111" stroke-width="0.9" />
<line x1="116.59" y1="503.80" x2="116.59" y2="505.80" stroke="#111" stroke-width="0.9" />
<line x1="117.23" y1="503.80" x2="117.23" y2="506.80" stroke="#111" stroke-width="0.9" />
<line x1="121.49" y1="503.80" x2="121.49" y2="505.80" stroke="#111" stroke-width="0.9" />
<line x1="123.97" y1="503.80" x2="123.97" y2="505.80" stroke="#111" stroke-width="0.9" />
<line x1="125.74" y1="503.80" x2="125.74" y2="505.80" stroke="#111" stroke-width="0.9" />
<line x1="127.11" y1="503.80" x2="127.11" y2="505.80" stroke="#111" stroke-width="0.9" />
<line x1="128.23" y1="503.80" x2="128.23" y2="505.80" stroke="#111" stroke-width="0.9" />
<line x1="129.18" y1="503.80" x2="129.18" y2="505.80" stroke="#111" stroke-width="0.9" />
<line x1="129.99" y1="503.80" x2="129.99" y2="505.80" stroke="#111" stroke-width="0.9" />
<line x1="130.72" y1="503.80" x2="130.72" y2="505.80" stroke="#111" stroke-width="0.9" />
<line x1="131.36" y1="503.80" x2="131.36" y2="506.80" stroke="#111" stroke-width="0.9" />
<line x1="135.62" y1="503.80" x2="135.62" y2="505.80" stroke="#111" stroke-width="0.9" />
<line x1="138.11" y1="503.80" x2="138.11" y2="505.80" stroke="#111" stroke-width="0.9" />
<line x1="139.87" y1="503.80" x2="139.87" y2="505.80" stroke="#111" stroke-width="0.9" />
<line x1="141.24" y1="503.80" x2="141.24" y2="505.80" stroke="#111" stroke-width="0.9" />
<line x1="142.36" y1="503.80" x2="142.36" y2="505.80" stroke="#111" stroke-width="0.9" />
<line x1="143.31" y1="503.80" x2="143.31" y2="505.80" stroke="#111" stroke-width="0.9" />
<line x1="144.13" y1="503.80" x2="144.13" y2="505.80" stroke="#111" stroke-width="0.9" />
<line x1="144.85" y1="503.80" x2="144.85" y2="505.80" stroke="#111" stroke-width="0.9" />
<line x1="145.50" y1="503.80" x2="145.50" y2="506.80" stroke="#111" stroke-width="0.9" />
<line x1="149.75" y1="503.80" x2="149.75" y2="505.80" stroke="#111" stroke-width="0.9" />
<line x1="152.24" y1="503.80" x2="152.24" y2="505.80" stroke="#111" stroke-width="0.9" />
<line x1="154.00" y1="503.80" x2="154.00" y2="505.80" stroke="#111" stroke-width="0.9" />
<line x1="155.37" y1="503.80" x2="155.37" y2="505.80" stroke="#111" stroke-width="0.9" />
<line x1="156.49" y1="503.80" x2="156.49" y2="505.80" stroke="#111" stroke-width="0.9" />
<line x1="157.44" y1="503.80" x2="157.44" y2="505.80" stroke="#111" stroke-width="0.9" />
<line x1="158.26" y1="503.80" x2="158.26" y2="505.80" stroke="#111" stroke-width="0.9" />
<line x1="158.98" y1="503.80" x2="158.98" y2="505.80" stroke="#111" stroke-width="0.9" />
<line x1="159.63" y1="503.80" x2="159.63" y2="506.80" stroke="#111" stroke-width="0.9" />
<line x1="163.88" y1="503.80" x2="163.88" y2="505.80" stroke="#111" stroke-width="0.9" />
<line x1="166.37" y1="503.80" x2="166.37" y2="505.80" stroke="#111" stroke-width="0.9" />
<line x1="168.14" y1="503.80" x2="168.14" y2="505.80" stroke="#111" stroke-width="0.9" />
<line x1="169.51" y1="503.80" x2="169.51" y2="505.80" stroke="#111" stroke-width="0.9" />
<line x1="170.63" y1="503.80" x2="170.63" y2="505.80" stroke="#111" stroke-width="0.9" />
<line x1="171.57" y1="503.80" x2="171.57" y2="505.80" stroke="#111" stroke-width="0.9" />
<line x1="172.39" y1="503.80" x2="172.39" y2="505.80" stroke="#111" stroke-width="0.9" />
<line x1="173.11" y1="503.80" x2="173.11" y2="505.80" stroke="#111" stroke-width="0.9" />
<line x1="173.76" y1="503.80" x2="173.76" y2="506.80" stroke="#111" stroke-width="0.9" />
<text x="133.00" y="439.30" font-size="5.6" text-anchor="start" textLength="2.90" lengthAdjust="spacingAndGlyphs" fill="#222" stroke="#222" stroke-width="0.1">S</text>
<text x="139.70" y="439.30" font-size="5.6" text-anchor="start" textLength="14.90" lengthAdjust="spacingAndGlyphs" fill="#222" stroke="#222" stroke-width="0.1">25.0%</text>
<text x="106.20" y="455.50" font-size="5.6" text-anchor="start" textLength="14.60" lengthAdjust="spacingAndGlyphs" fill="#222" stroke="#222" stroke-width="0.1">subG1</text>
<text x="106.20" y="461.20" font-size="5.6" text-anchor="start" textLength="14.00" lengthAdjust="spacingAndGlyphs" fill="#222" stroke="#222" stroke-width="0.1">21.7%</text>
<text x="138.20" y="495.50" font-size="5.6" text-anchor="start" textLength="6.30" lengthAdjust="spacingAndGlyphs" fill="#222" stroke="#222" stroke-width="0.1">G1</text>
<text x="139.20" y="501.60" font-size="5.6" text-anchor="start" textLength="14.30" lengthAdjust="spacingAndGlyphs" fill="#222" stroke="#222" stroke-width="0.1">38.3%</text>
<text x="160.30" y="495.50" font-size="5.6" text-anchor="start" textLength="6.30" lengthAdjust="spacingAndGlyphs" fill="#222" stroke="#222" stroke-width="0.1">G2</text>
<text x="158.20" y="501.60" font-size="5.6" text-anchor="start" textLength="14.50" lengthAdjust="spacingAndGlyphs" fill="#222" stroke="#222" stroke-width="0.1">7.26%</text>
<line x1="212.50" y1="378.95" x2="212.50" y2="486.15" stroke="#1a1a1a" stroke-width="1.15" />
<line x1="211.95" y1="485.60" x2="250.00" y2="485.60" stroke="#1a1a1a" stroke-width="1.15" />
<line x1="209.70" y1="485.60" x2="212.50" y2="485.60" stroke="#1a1a1a" stroke-width="1.0" />
<text x="206.80" y="487.83" font-size="6.2" text-anchor="end" textLength="3.45" lengthAdjust="spacingAndGlyphs" fill="#262626" stroke="#262626" stroke-width="0.15899999999999997">0</text>
<line x1="209.70" y1="464.38" x2="212.50" y2="464.38" stroke="#1a1a1a" stroke-width="1.0" />
<text x="206.80" y="466.61" font-size="6.2" text-anchor="end" textLength="6.90" lengthAdjust="spacingAndGlyphs" fill="#262626" stroke="#262626" stroke-width="0.15899999999999997">20</text>
<line x1="209.70" y1="443.16" x2="212.50" y2="443.16" stroke="#1a1a1a" stroke-width="1.0" />
<text x="206.80" y="445.39" font-size="6.2" text-anchor="end" textLength="6.90" lengthAdjust="spacingAndGlyphs" fill="#262626" stroke="#262626" stroke-width="0.15899999999999997">40</text>
<line x1="209.70" y1="421.94" x2="212.50" y2="421.94" stroke="#1a1a1a" stroke-width="1.0" />
<text x="206.80" y="424.17" font-size="6.2" text-anchor="end" textLength="6.90" lengthAdjust="spacingAndGlyphs" fill="#262626" stroke="#262626" stroke-width="0.15899999999999997">60</text>
<line x1="209.70" y1="400.72" x2="212.50" y2="400.72" stroke="#1a1a1a" stroke-width="1.0" />
<text x="206.80" y="402.95" font-size="6.2" text-anchor="end" textLength="6.90" lengthAdjust="spacingAndGlyphs" fill="#262626" stroke="#262626" stroke-width="0.15899999999999997">80</text>
<line x1="209.70" y1="379.50" x2="212.50" y2="379.50" stroke="#1a1a1a" stroke-width="1.0" />
<text x="206.80" y="381.73" font-size="6.2" text-anchor="end" textLength="10.34" lengthAdjust="spacingAndGlyphs" fill="#262626" stroke="#262626" stroke-width="0.15899999999999997">100</text>
<line x1="222.50" y1="485.60" x2="222.50" y2="488.20" stroke="#1a1a1a" stroke-width="1.0" />
<line x1="242.00" y1="485.60" x2="242.00" y2="488.20" stroke="#1a1a1a" stroke-width="1.0" />
<text x="231.70" y="372.50" font-size="8.0" text-anchor="middle" textLength="37.00" lengthAdjust="spacingAndGlyphs" fill="#262626" stroke="#262626" stroke-width="0.3">LP1shEXT1</text>
<text transform="translate(189.80,431.50) rotate(-90)" font-size="6.5" text-anchor="start" textLength="5.20" lengthAdjust="spacingAndGlyphs" fill="#262626" stroke="#262626" stroke-width="0.1725">%</text>
<rect x="216.00" y="480.30" width="13.00" height="5.31" fill="#5c6670" />
<rect x="216.00" y="443.16" width="13.00" height="37.13" fill="#bb0632" />
<rect x="216.00" y="397.54" width="13.00" height="45.62" fill="#2d5495" />
<rect x="216.00" y="392.23" width="13.00" height="5.31" fill="#77b550" />
<line x1="222.50" y1="480.30" x2="222.50" y2="479.76" stroke="#111" stroke-width="0.9" />
<line x1="219.50" y1="479.76" x2="225.50" y2="479.76" stroke="#111" stroke-width="0.9" />
<line x1="217.50" y1="480.30" x2="227.50" y2="480.30" stroke="#111" stroke-width="1.1" />
<line x1="222.50" y1="443.16" x2="222.50" y2="442.10" stroke="#111" stroke-width="0.9" />
<line x1="219.50" y1="442.10" x2="225.50" y2="442.10" stroke="#111" stroke-width="0.9" />
<line x1="217.50" y1="443.16" x2="227.50" y2="443.16" stroke="#111" stroke-width="1.1" />
<line x1="222.50" y1="397.54" x2="222.50" y2="397.01" stroke="#111" stroke-width="0.9" />
<line x1="219.50" y1="397.01" x2="225.50" y2="397.01" stroke="#111" stroke-width="0.9" />
<line x1="217.50" y1="397.54" x2="227.50" y2="397.54" stroke="#111" stroke-width="1.1" />
<line x1="222.50" y1="392.23" x2="222.50" y2="391.38" stroke="#111" stroke-width="0.9" />
<line x1="219.50" y1="391.38" x2="225.50" y2="391.38" stroke="#111" stroke-width="0.9" />
<line x1="217.50" y1="392.23" x2="227.50" y2="392.23" stroke="#111" stroke-width="1.1" />
<rect x="235.50" y="477.32" width="13.10" height="8.28" fill="#5c6670" />
<rect x="235.50" y="421.73" width="13.10" height="55.60" fill="#bb0632" />
<rect x="235.50" y="397.54" width="13.10" height="24.19" fill="#2d5495" />
<rect x="235.50" y="392.23" width="13.10" height="5.31" fill="#77b550" />
<line x1="242.05" y1="477.32" x2="242.05" y2="476.48" stroke="#111" stroke-width="0.9" />
<line x1="239.05" y1="476.48" x2="245.05" y2="476.48" stroke="#111" stroke-width="0.9" />
<line x1="237.00" y1="477.32" x2="247.10" y2="477.32" stroke="#111" stroke-width="1.1" />
<line x1="242.05" y1="421.73" x2="242.05" y2="420.14" stroke="#111" stroke-width="0.9" />
<line x1="239.05" y1="420.14" x2="245.05" y2="420.14" stroke="#111" stroke-width="0.9" />
<line x1="237.00" y1="421.73" x2="247.10" y2="421.73" stroke="#111" stroke-width="1.1" />
<line x1="242.05" y1="397.54" x2="242.05" y2="396.69" stroke="#111" stroke-width="0.9" />
<line x1="239.05" y1="396.69" x2="245.05" y2="396.69" stroke="#111" stroke-width="0.9" />
<line x1="237.00" y1="397.54" x2="247.10" y2="397.54" stroke="#111" stroke-width="1.1" />
<line x1="242.05" y1="392.23" x2="242.05" y2="391.38" stroke="#111" stroke-width="0.9" />
<line x1="239.05" y1="391.38" x2="245.05" y2="391.38" stroke="#111" stroke-width="0.9" />
<line x1="237.00" y1="392.23" x2="247.10" y2="392.23" stroke="#111" stroke-width="1.1" />
<text x="251.80" y="399.40" font-size="7" text-anchor="start" textLength="8.17" lengthAdjust="spacingAndGlyphs" fill="#262626" stroke="#262626" stroke-width="0.195">***</text>
<text x="252.00" y="479.50" font-size="7" text-anchor="start" textLength="5.45" lengthAdjust="spacingAndGlyphs" fill="#262626" stroke="#262626" stroke-width="0.195">**</text>
<text x="201.40" y="497.30" font-size="6.4" text-anchor="start" textLength="10.60" lengthAdjust="spacingAndGlyphs" fill="#262626" stroke="#262626" stroke-width="0.16799999999999998">Dox</text>
<text x="222.30" y="497.30" font-size="6.4" text-anchor="middle" textLength="2.13" lengthAdjust="spacingAndGlyphs" fill="#262626" stroke="#262626" stroke-width="0.16799999999999998">-</text>
<text x="241.80" y="497.30" font-size="6.4" text-anchor="middle" textLength="3.74" lengthAdjust="spacingAndGlyphs" fill="#262626" stroke="#262626" stroke-width="0.16799999999999998">+</text>
<line x1="296.60" y1="379.35" x2="296.60" y2="486.35" stroke="#1a1a1a" stroke-width="1.15" />
<line x1="296.05" y1="485.80" x2="333.00" y2="485.80" stroke="#1a1a1a" stroke-width="1.15" />
<line x1="293.80" y1="485.80" x2="296.60" y2="485.80" stroke="#1a1a1a" stroke-width="1.0" />
<text x="290.90" y="488.03" font-size="6.2" text-anchor="end" textLength="3.45" lengthAdjust="spacingAndGlyphs" fill="#262626" stroke="#262626" stroke-width="0.15899999999999997">0</text>
<line x1="293.80" y1="464.62" x2="296.60" y2="464.62" stroke="#1a1a1a" stroke-width="1.0" />
<text x="290.90" y="466.85" font-size="6.2" text-anchor="end" textLength="6.90" lengthAdjust="spacingAndGlyphs" fill="#262626" stroke="#262626" stroke-width="0.15899999999999997">20</text>
<line x1="293.80" y1="443.44" x2="296.60" y2="443.44" stroke="#1a1a1a" stroke-width="1.0" />
<text x="290.90" y="445.67" font-size="6.2" text-anchor="end" textLength="6.90" lengthAdjust="spacingAndGlyphs" fill="#262626" stroke="#262626" stroke-width="0.15899999999999997">40</text>
<line x1="293.80" y1="422.26" x2="296.60" y2="422.26" stroke="#1a1a1a" stroke-width="1.0" />
<text x="290.90" y="424.49" font-size="6.2" text-anchor="end" textLength="6.90" lengthAdjust="spacingAndGlyphs" fill="#262626" stroke="#262626" stroke-width="0.15899999999999997">60</text>
<line x1="293.80" y1="401.08" x2="296.60" y2="401.08" stroke="#1a1a1a" stroke-width="1.0" />
<text x="290.90" y="403.31" font-size="6.2" text-anchor="end" textLength="6.90" lengthAdjust="spacingAndGlyphs" fill="#262626" stroke="#262626" stroke-width="0.15899999999999997">80</text>
<line x1="293.80" y1="379.90" x2="296.60" y2="379.90" stroke="#1a1a1a" stroke-width="1.0" />
<text x="290.90" y="382.13" font-size="6.2" text-anchor="end" textLength="10.34" lengthAdjust="spacingAndGlyphs" fill="#262626" stroke="#262626" stroke-width="0.15899999999999997">100</text>
<line x1="305.90" y1="485.80" x2="305.90" y2="488.40" stroke="#1a1a1a" stroke-width="1.0" />
<line x1="324.70" y1="485.80" x2="324.70" y2="488.40" stroke="#1a1a1a" stroke-width="1.0" />
<text x="315.00" y="372.50" font-size="8.0" text-anchor="middle" textLength="42.50" lengthAdjust="spacingAndGlyphs" fill="#262626" stroke="#262626" stroke-width="0.3">LME1shEXT1</text>
<text transform="translate(273.60,432.00) rotate(-90)" font-size="6.5" text-anchor="start" textLength="5.20" lengthAdjust="spacingAndGlyphs" fill="#262626" stroke="#262626" stroke-width="0.1725">%</text>
<rect x="299.60" y="466.74" width="12.60" height="19.06" fill="#5c6670" />
<rect x="299.60" y="430.73" width="12.60" height="36.01" fill="#bb0632" />
<rect x="299.60" y="392.61" width="12.60" height="38.12" fill="#2d5495" />
<rect x="299.60" y="385.19" width="12.60" height="7.41" fill="#77b550" />
<line x1="305.90" y1="466.74" x2="305.90" y2="466.21" stroke="#111" stroke-width="0.9" />
<line x1="302.90" y1="466.21" x2="308.90" y2="466.21" stroke="#111" stroke-width="0.9" />
<line x1="301.10" y1="466.74" x2="310.70" y2="466.74" stroke="#111" stroke-width="1.1" />
<line x1="305.90" y1="430.73" x2="305.90" y2="429.88" stroke="#111" stroke-width="0.9" />
<line x1="302.90" y1="429.88" x2="308.90" y2="429.88" stroke="#111" stroke-width="0.9" />
<line x1="301.10" y1="430.73" x2="310.70" y2="430.73" stroke="#111" stroke-width="1.1" />
<line x1="305.90" y1="392.61" x2="305.90" y2="389.96" stroke="#111" stroke-width="0.9" />
<line x1="302.90" y1="389.96" x2="308.90" y2="389.96" stroke="#111" stroke-width="0.9" />
<line x1="301.10" y1="392.61" x2="310.70" y2="392.61" stroke="#111" stroke-width="1.1" />
<line x1="305.90" y1="385.19" x2="305.90" y2="384.35" stroke="#111" stroke-width="0.9" />
<line x1="302.90" y1="384.35" x2="308.90" y2="384.35" stroke="#111" stroke-width="0.9" />
<line x1="301.10" y1="385.19" x2="310.70" y2="385.19" stroke="#111" stroke-width="1.1" />
<rect x="318.50" y="461.44" width="12.50" height="24.36" fill="#5c6670" />
<rect x="318.50" y="419.61" width="12.50" height="41.83" fill="#bb0632" />
<rect x="318.50" y="391.55" width="12.50" height="28.06" fill="#2d5495" />
<rect x="318.50" y="384.14" width="12.50" height="7.41" fill="#77b550" />
<line x1="324.75" y1="461.44" x2="324.75" y2="460.60" stroke="#111" stroke-width="0.9" />
<line x1="321.75" y1="460.60" x2="327.75" y2="460.60" stroke="#111" stroke-width="0.9" />
<line x1="320.00" y1="461.44" x2="329.50" y2="461.44" stroke="#111" stroke-width="1.1" />
<line x1="324.75" y1="419.61" x2="324.75" y2="418.98" stroke="#111" stroke-width="0.9" />
<line x1="321.75" y1="418.98" x2="327.75" y2="418.98" stroke="#111" stroke-width="0.9" />
<line x1="320.00" y1="419.61" x2="329.50" y2="419.61" stroke="#111" stroke-width="1.1" />
<line x1="324.75" y1="391.55" x2="324.75" y2="389.96" stroke="#111" stroke-width="0.9" />
<line x1="321.75" y1="389.96" x2="327.75" y2="389.96" stroke="#111" stroke-width="0.9" />
<line x1="320.00" y1="391.55" x2="329.50" y2="391.55" stroke="#111" stroke-width="1.1" />
<line x1="324.75" y1="384.14" x2="324.75" y2="383.29" stroke="#111" stroke-width="0.9" />
<line x1="321.75" y1="383.29" x2="327.75" y2="383.29" stroke="#111" stroke-width="0.9" />
<line x1="320.00" y1="384.14" x2="329.50" y2="384.14" stroke="#111" stroke-width="1.1" />
<text x="333.20" y="393.00" font-size="7" text-anchor="start" textLength="2.72" lengthAdjust="spacingAndGlyphs" fill="#262626" stroke="#262626" stroke-width="0.195">*</text>
<text x="334.40" y="464.00" font-size="7" text-anchor="start" textLength="2.72" lengthAdjust="spacingAndGlyphs" fill="#262626" stroke="#262626" stroke-width="0.195">*</text>
<text x="305.40" y="497.30" font-size="6.4" text-anchor="middle" textLength="2.13" lengthAdjust="spacingAndGlyphs" fill="#262626" stroke="#262626" stroke-width="0.16799999999999998">-</text>
<text x="324.80" y="497.30" font-size="6.4" text-anchor="middle" textLength="3.74" lengthAdjust="spacingAndGlyphs" fill="#262626" stroke="#262626" stroke-width="0.16799999999999998">+</text>
<rect x="340.70" y="384.60" width="4.60" height="4.60" fill="#77b550" />
<text x="348.00" y="389.00" font-size="6.0" text-anchor="start" textLength="7.20" lengthAdjust="spacingAndGlyphs" fill="#262626" stroke="#262626" stroke-width="0.15000000000000002">G2</text>
<rect x="340.70" y="393.60" width="4.60" height="4.60" fill="#2d5495" />
<text x="348.00" y="398.00" font-size="6.0" text-anchor="start" textLength="3.60" lengthAdjust="spacingAndGlyphs" fill="#262626" stroke="#262626" stroke-width="0.15000000000000002">S</text>
<rect x="340.70" y="402.40" width="4.60" height="4.60" fill="#bb0632" />
<text x="348.00" y="406.80" font-size="6.0" text-anchor="start" textLength="7.20" lengthAdjust="spacingAndGlyphs" fill="#262626" stroke="#262626" stroke-width="0.15000000000000002">G1</text>
<rect x="340.70" y="411.60" width="4.60" height="4.60" fill="#5c6670" />
<text x="348.00" y="416.00" font-size="6.0" text-anchor="start" textLength="16.81" lengthAdjust="spacingAndGlyphs" fill="#262626" stroke="#262626" stroke-width="0.15000000000000002">SubG1</text>
<text x="373.80" y="289.30" font-size="11.3" text-anchor="start" textLength="7.90" lengthAdjust="spacingAndGlyphs" fill="#0a0a0a" font-weight="bold" stroke="#0a0a0a" stroke-width="0.5">F</text>
<line x1="405.30" y1="299.55" x2="405.30" y2="387.25" stroke="#1a1a1a" stroke-width="1.15" />
<line x1="404.75" y1="386.70" x2="478.00" y2="386.70" stroke="#1a1a1a" stroke-width="1.15" />
<line x1="402.50" y1="386.70" x2="405.30" y2="386.70" stroke="#1a1a1a" stroke-width="1.0" />
<text x="399.60" y="388.93" font-size="6.2" text-anchor="end" textLength="3.45" lengthAdjust="spacingAndGlyphs" fill="#262626" stroke="#262626" stroke-width="0.15899999999999997">0</text>
<line x1="402.50" y1="365.05" x2="405.30" y2="365.05" stroke="#1a1a1a" stroke-width="1.0" />
<text x="399.60" y="367.28" font-size="6.2" text-anchor="end" textLength="3.45" lengthAdjust="spacingAndGlyphs" fill="#262626" stroke="#262626" stroke-width="0.15899999999999997">2</text>
<line x1="402.50" y1="343.40" x2="405.30" y2="343.40" stroke="#1a1a1a" stroke-width="1.0" />
<text x="399.60" y="345.63" font-size="6.2" text-anchor="end" textLength="3.45" lengthAdjust="spacingAndGlyphs" fill="#262626" stroke="#262626" stroke-width="0.15899999999999997">4</text>
<line x1="402.50" y1="321.75" x2="405.30" y2="321.75" stroke="#1a1a1a" stroke-width="1.0" />
<text x="399.60" y="323.98" font-size="6.2" text-anchor="end" textLength="3.45" lengthAdjust="spacingAndGlyphs" fill="#262626" stroke="#262626" stroke-width="0.15899999999999997">6</text>
<line x1="402.50" y1="300.10" x2="405.30" y2="300.10" stroke="#1a1a1a" stroke-width="1.0" />
<text x="399.60" y="302.33" font-size="6.2" text-anchor="end" textLength="3.45" lengthAdjust="spacingAndGlyphs" fill="#262626" stroke="#262626" stroke-width="0.15899999999999997">8</text>
<line x1="424.60" y1="386.70" x2="424.60" y2="389.30" stroke="#1a1a1a" stroke-width="1.0" />
<line x1="463.00" y1="386.70" x2="463.00" y2="389.30" stroke="#1a1a1a" stroke-width="1.0" />
<text x="444.40" y="286.00" font-size="7.8" text-anchor="middle" textLength="36.50" lengthAdjust="spacingAndGlyphs" fill="#262626" stroke="#262626" stroke-width="0.3">LP1shEXT1</text>
<text transform="translate(392.60,381.40) rotate(-90)" font-size="8.6" text-anchor="start" textLength="79.00" lengthAdjust="spacingAndGlyphs" fill="#262626" stroke="#262626" stroke-width="0.26699999999999996">Fold increase of viable cells</text>
<line x1="417.60" y1="322.51" x2="417.60" y2="317.10" stroke="#1a1a1a" stroke-width="1.0" />
<line x1="415.10" y1="317.10" x2="420.10" y2="317.10" stroke="#1a1a1a" stroke-width="1.0" />
<rect x="412.90" y="322.51" width="9.40" height="64.19" fill="#bb0632" stroke="#6e0a22" stroke-width="0.7" />
<line x1="431.80" y1="308.76" x2="431.80" y2="304.43" stroke="#1a1a1a" stroke-width="1.0" />
<line x1="429.30" y1="304.43" x2="434.30" y2="304.43" stroke="#1a1a1a" stroke-width="1.0" />
<rect x="426.90" y="308.76" width="9.80" height="77.94" fill="#2d5495" stroke="#1b3560" stroke-width="0.7" />
<line x1="456.10" y1="339.50" x2="456.10" y2="336.47" stroke="#1a1a1a" stroke-width="1.0" />
<line x1="453.60" y1="336.47" x2="458.60" y2="336.47" stroke="#1a1a1a" stroke-width="1.0" />
<rect x="451.20" y="339.50" width="9.80" height="47.20" fill="#bb0632" stroke="#6e0a22" stroke-width="0.7" />
<line x1="470.15" y1="329.65" x2="470.15" y2="329.00" stroke="#1a1a1a" stroke-width="1.0" />
<line x1="467.65" y1="329.00" x2="472.65" y2="329.00" stroke="#1a1a1a" stroke-width="1.0" />
<rect x="465.30" y="329.65" width="9.70" height="57.05" fill="#2d5495" stroke="#1b3560" stroke-width="0.7" />
<polyline points="418.70,297.10 418.70,295.10 456.70,295.10 456.70,297.10" fill="none" stroke="#1a1a1a" stroke-width="0.9" stroke-linejoin="round" stroke-linejoin="miter"/>
<text x="437.70" y="296.70" font-size="7.6" text-anchor="middle" textLength="2.96" lengthAdjust="spacingAndGlyphs" fill="#262626" stroke="#262626" stroke-width="0.22199999999999998">*</text>
<polyline points="431.70,302.40 431.70,300.40 469.20,300.40 469.20,302.40" fill="none" stroke="#1a1a1a" stroke-width="0.9" stroke-linejoin="round" stroke-linejoin="miter"/>
<text x="450.45" y="302.00" font-size="7.6" text-anchor="middle" textLength="5.92" lengthAdjust="spacingAndGlyphs" fill="#262626" stroke="#262626" stroke-width="0.22199999999999998">**</text>
<rect x="485.40" y="297.10" width="4.80" height="4.80" fill="#bb0632" />
<text x="491.00" y="301.50" font-size="5.6" text-anchor="start" textLength="16.50" lengthAdjust="spacingAndGlyphs" fill="#262626" stroke="#262626" stroke-width="0.132">- BMSC</text>
<rect x="485.40" y="305.80" width="4.80" height="4.80" fill="#2d5495" />
<text x="491.00" y="310.20" font-size="5.6" text-anchor="start" textLength="17.20" lengthAdjust="spacingAndGlyphs" fill="#262626" stroke="#262626" stroke-width="0.132">+ BMSC</text>
<text x="394.50" y="398.00" font-size="6.4" text-anchor="start" textLength="10.60" lengthAdjust="spacingAndGlyphs" fill="#262626" stroke="#262626" stroke-width="0.16799999999999998">Dox</text>
<text x="424.80" y="398.00" font-size="6.4" text-anchor="middle" textLength="2.13" lengthAdjust="spacingAndGlyphs" fill="#262626" stroke="#262626" stroke-width="0.16799999999999998">-</text>
<text x="462.90" y="398.00" font-size="6.4" text-anchor="middle" textLength="3.74" lengthAdjust="spacingAndGlyphs" fill="#262626" stroke="#262626" stroke-width="0.16799999999999998">+</text>
<line x1="405.30" y1="420.95" x2="405.30" y2="514.95" stroke="#1a1a1a" stroke-width="1.15" />
<line x1="404.75" y1="514.40" x2="478.50" y2="514.40" stroke="#1a1a1a" stroke-width="1.15" />
<line x1="402.50" y1="514.40" x2="405.30" y2="514.40" stroke="#1a1a1a" stroke-width="1.0" />
<text x="399.60" y="516.63" font-size="6.2" text-anchor="end" textLength="3.45" lengthAdjust="spacingAndGlyphs" fill="#262626" stroke="#262626" stroke-width="0.15899999999999997">0</text>
<line x1="402.50" y1="491.17" x2="405.30" y2="491.17" stroke="#1a1a1a" stroke-width="1.0" />
<text x="399.60" y="493.41" font-size="6.2" text-anchor="end" textLength="3.45" lengthAdjust="spacingAndGlyphs" fill="#262626" stroke="#262626" stroke-width="0.15899999999999997">5</text>
<line x1="402.50" y1="467.95" x2="405.30" y2="467.95" stroke="#1a1a1a" stroke-width="1.0" />
<text x="399.60" y="470.18" font-size="6.2" text-anchor="end" textLength="6.90" lengthAdjust="spacingAndGlyphs" fill="#262626" stroke="#262626" stroke-width="0.15899999999999997">10</text>
<line x1="402.50" y1="444.73" x2="405.30" y2="444.73" stroke="#1a1a1a" stroke-width="1.0" />
<text x="399.60" y="446.96" font-size="6.2" text-anchor="end" textLength="6.90" lengthAdjust="spacingAndGlyphs" fill="#262626" stroke="#262626" stroke-width="0.15899999999999997">15</text>
<line x1="402.50" y1="421.50" x2="405.30" y2="421.50" stroke="#1a1a1a" stroke-width="1.0" />
<text x="399.60" y="423.73" font-size="6.2" text-anchor="end" textLength="6.90" lengthAdjust="spacingAndGlyphs" fill="#262626" stroke="#262626" stroke-width="0.15899999999999997">20</text>
<line x1="424.80" y1="514.40" x2="424.80" y2="517.00" stroke="#1a1a1a" stroke-width="1.0" />
<line x1="463.20" y1="514.40" x2="463.20" y2="517.00" stroke="#1a1a1a" stroke-width="1.0" />
<text x="443.00" y="411.50" font-size="7.8" text-anchor="middle" textLength="42.00" lengthAdjust="spacingAndGlyphs" fill="#262626" stroke="#262626" stroke-width="0.3">LME1shEXT1</text>
<text transform="translate(388.90,506.20) rotate(-90)" font-size="8.6" text-anchor="start" textLength="80.00" lengthAdjust="spacingAndGlyphs" fill="#262626" stroke="#262626" stroke-width="0.26699999999999996">Fold increase of viable cells</text>
<line x1="417.70" y1="446.49" x2="417.70" y2="440.73" stroke="#1a1a1a" stroke-width="1.0" />
<line x1="415.20" y1="440.73" x2="420.20" y2="440.73" stroke="#1a1a1a" stroke-width="1.0" />
<rect x="413.00" y="446.49" width="9.40" height="67.91" fill="#bb0632" stroke="#6e0a22" stroke-width="0.7" />
<line x1="431.90" y1="439.29" x2="431.90" y2="432.79" stroke="#1a1a1a" stroke-width="1.0" />
<line x1="429.40" y1="432.79" x2="434.40" y2="432.79" stroke="#1a1a1a" stroke-width="1.0" />
<rect x="427.00" y="439.29" width="9.80" height="75.11" fill="#2d5495" stroke="#1b3560" stroke-width="0.7" />
<line x1="456.15" y1="474.22" x2="456.15" y2="471.71" stroke="#1a1a1a" stroke-width="1.0" />
<line x1="453.65" y1="471.71" x2="458.65" y2="471.71" stroke="#1a1a1a" stroke-width="1.0" />
<rect x="451.30" y="474.22" width="9.70" height="40.18" fill="#bb0632" stroke="#6e0a22" stroke-width="0.7" />
<line x1="470.30" y1="465.16" x2="470.30" y2="462.84" stroke="#1a1a1a" stroke-width="1.0" />
<line x1="467.80" y1="462.84" x2="472.80" y2="462.84" stroke="#1a1a1a" stroke-width="1.0" />
<rect x="465.40" y="465.16" width="9.80" height="49.24" fill="#2d5495" stroke="#1b3560" stroke-width="0.7" />
<polyline points="418.30,423.50 418.30,421.50 456.70,421.50 456.70,423.50" fill="none" stroke="#1a1a1a" stroke-width="0.9" stroke-linejoin="round" stroke-linejoin="miter"/>
<text x="437.50" y="423.10" font-size="7.6" text-anchor="middle" textLength="5.92" lengthAdjust="spacingAndGlyphs" fill="#262626" stroke="#262626" stroke-width="0.22199999999999998">**</text>
<polyline points="431.40,430.00 431.40,428.00 470.70,428.00 470.70,430.00" fill="none" stroke="#1a1a1a" stroke-width="0.9" stroke-linejoin="round" stroke-linejoin="miter"/>
<text x="451.05" y="429.60" font-size="7.6" text-anchor="middle" textLength="5.92" lengthAdjust="spacingAndGlyphs" fill="#262626" stroke="#262626" stroke-width="0.22199999999999998">**</text>
<rect x="485.40" y="420.60" width="4.80" height="4.80" fill="#bb0632" />
<text x="491.00" y="425.00" font-size="5.6" text-anchor="start" textLength="16.50" lengthAdjust="spacingAndGlyphs" fill="#262626" stroke="#262626" stroke-width="0.132">- BMSC</text>
<rect x="485.40" y="429.30" width="4.80" height="4.80" fill="#2d5495" />
<text x="491.00" y="433.70" font-size="5.6" text-anchor="start" textLength="17.20" lengthAdjust="spacingAndGlyphs" fill="#262626" stroke="#262626" stroke-width="0.132">+ BMSC</text>
<text x="393.00" y="527.00" font-size="6.4" text-anchor="start" textLength="10.60" lengthAdjust="spacingAndGlyphs" fill="#262626" stroke="#262626" stroke-width="0.16799999999999998">Dox</text>
<text x="425.00" y="527.00" font-size="6.4" text-anchor="middle" textLength="2.13" lengthAdjust="spacingAndGlyphs" fill="#262626" stroke="#262626" stroke-width="0.16799999999999998">-</text>
<text x="463.00" y="527.00" font-size="6.4" text-anchor="middle" textLength="3.74" lengthAdjust="spacingAndGlyphs" fill="#262626" stroke="#262626" stroke-width="0.16799999999999998">+</text>
<text x="6.70" y="546.60" font-size="11.3" text-anchor="start" textLength="9.40" lengthAdjust="spacingAndGlyphs" fill="#0a0a0a" font-weight="bold" stroke="#0a0a0a" stroke-width="0.5">G</text>
<line x1="44.80" y1="565.65" x2="44.80" y2="654.35" stroke="#1a1a1a" stroke-width="1.15" />
<line x1="44.25" y1="653.80" x2="97.50" y2="653.80" stroke="#1a1a1a" stroke-width="1.15" />
<line x1="42.00" y1="653.80" x2="44.80" y2="653.80" stroke="#1a1a1a" stroke-width="1.0" />
<text x="39.10" y="656.03" font-size="6.2" text-anchor="end" textLength="3.45" lengthAdjust="spacingAndGlyphs" fill="#262626" stroke="#262626" stroke-width="0.15899999999999997">0</text>
<line x1="42.00" y1="631.90" x2="44.80" y2="631.90" stroke="#1a1a1a" stroke-width="1.0" />
<text x="39.10" y="634.13" font-size="6.2" text-anchor="end" textLength="3.45" lengthAdjust="spacingAndGlyphs" fill="#262626" stroke="#262626" stroke-width="0.15899999999999997">5</text>
<line x1="42.00" y1="610.00" x2="44.80" y2="610.00" stroke="#1a1a1a" stroke-width="1.0" />
<text x="39.10" y="612.23" font-size="6.2" text-anchor="end" textLength="6.90" lengthAdjust="spacingAndGlyphs" fill="#262626" stroke="#262626" stroke-width="0.15899999999999997">10</text>
<line x1="42.00" y1="588.10" x2="44.80" y2="588.10" stroke="#1a1a1a" stroke-width="1.0" />
<text x="39.10" y="590.33" font-size="6.2" text-anchor="end" textLength="6.90" lengthAdjust="spacingAndGlyphs" fill="#262626" stroke="#262626" stroke-width="0.15899999999999997">15</text>
<line x1="42.00" y1="566.20" x2="44.80" y2="566.20" stroke="#1a1a1a" stroke-width="1.0" />
<text x="39.10" y="568.43" font-size="6.2" text-anchor="end" textLength="6.90" lengthAdjust="spacingAndGlyphs" fill="#262626" stroke="#262626" stroke-width="0.15899999999999997">20</text>
<line x1="51.10" y1="653.80" x2="51.10" y2="656.40" stroke="#1a1a1a" stroke-width="1.0" />
<line x1="64.40" y1="653.80" x2="64.40" y2="656.40" stroke="#1a1a1a" stroke-width="1.0" />
<line x1="77.60" y1="653.80" x2="77.60" y2="656.40" stroke="#1a1a1a" stroke-width="1.0" />
<line x1="91.10" y1="653.80" x2="91.10" y2="656.40" stroke="#1a1a1a" stroke-width="1.0" />
<text x="71.00" y="559.80" font-size="7.8" text-anchor="middle" textLength="36.50" lengthAdjust="spacingAndGlyphs" fill="#262626" stroke="#262626" stroke-width="0.3">LP1shEXT1</text>
<text transform="translate(27.50,648.20) rotate(-90)" font-size="8.6" text-anchor="start" textLength="79.00" lengthAdjust="spacingAndGlyphs" fill="#262626" stroke="#262626" stroke-width="0.26699999999999996">Fold increase of viable cells</text>
<line x1="51.35" y1="592.00" x2="51.35" y2="583.28" stroke="#1a1a1a" stroke-width="1.0" />
<line x1="48.85" y1="583.28" x2="53.85" y2="583.28" stroke="#1a1a1a" stroke-width="1.0" />
<rect x="46.90" y="592.00" width="8.90" height="61.80" fill="#bb0632" stroke="#6e0a22" stroke-width="0.7" />
<line x1="64.55" y1="619.64" x2="64.55" y2="615.52" stroke="#1a1a1a" stroke-width="1.0" />
<line x1="62.05" y1="615.52" x2="67.05" y2="615.52" stroke="#1a1a1a" stroke-width="1.0" />
<rect x="60.10" y="619.64" width="8.90" height="34.16" fill="#bb0632" stroke="#6e0a22" stroke-width="0.7" />
<line x1="78.25" y1="603.74" x2="78.25" y2="592.48" stroke="#1a1a1a" stroke-width="1.0" />
<line x1="75.75" y1="592.48" x2="80.75" y2="592.48" stroke="#1a1a1a" stroke-width="1.0" />
<rect x="73.90" y="603.74" width="8.70" height="50.06" fill="#2d5495" stroke="#1b3560" stroke-width="0.7" />
<line x1="91.65" y1="609.61" x2="91.65" y2="601.42" stroke="#1a1a1a" stroke-width="1.0" />
<line x1="89.15" y1="601.42" x2="94.15" y2="601.42" stroke="#1a1a1a" stroke-width="1.0" />
<rect x="87.30" y="609.61" width="8.70" height="44.19" fill="#2d5495" stroke="#1b3560" stroke-width="0.7" />
<polyline points="52.40,578.70 52.40,576.70 69.60,576.70 69.60,578.70" fill="none" stroke="#1a1a1a" stroke-width="0.9" stroke-linejoin="round" stroke-linejoin="miter"/>
<text x="61.00" y="578.30" font-size="7.6" text-anchor="middle" textLength="2.96" lengthAdjust="spacingAndGlyphs" fill="#262626" stroke="#262626" stroke-width="0.22199999999999998">*</text>
<polyline points="77.40,585.20 77.40,583.20 94.10,583.20 94.10,585.20" fill="none" stroke="#1a1a1a" stroke-width="0.9" stroke-linejoin="round" stroke-linejoin="miter"/>
<text x="85.75" y="581.40" font-size="6.6" text-anchor="middle" textLength="6.97" lengthAdjust="spacingAndGlyphs" fill="#262626" stroke="#262626" stroke-width="0.177">ns</text>
<text x="32.50" y="666.30" font-size="6.4" text-anchor="start" textLength="10.60" lengthAdjust="spacingAndGlyphs" fill="#262626" stroke="#262626" stroke-width="0.16799999999999998">Dox</text>
<text x="51.20" y="666.30" font-size="6.4" text-anchor="middle" textLength="2.13" lengthAdjust="spacingAndGlyphs" fill="#262626" stroke="#262626" stroke-width="0.16799999999999998">-</text>
<text x="64.50" y="666.30" font-size="6.4" text-anchor="middle" textLength="3.74" lengthAdjust="spacingAndGlyphs" fill="#262626" stroke="#262626" stroke-width="0.16799999999999998">+</text>
<text x="78.00" y="666.30" font-size="6.4" text-anchor="middle" textLength="2.13" lengthAdjust="spacingAndGlyphs" fill="#262626" stroke="#262626" stroke-width="0.16799999999999998">-</text>
<text x="91.20" y="666.30" font-size="6.4" text-anchor="middle" textLength="3.74" lengthAdjust="spacingAndGlyphs" fill="#262626" stroke="#262626" stroke-width="0.16799999999999998">+</text>
<line x1="138.60" y1="567.55" x2="138.60" y2="654.55" stroke="#1a1a1a" stroke-width="1.15" />
<line x1="138.05" y1="654.00" x2="192.00" y2="654.00" stroke="#1a1a1a" stroke-width="1.15" />
<line x1="135.80" y1="654.00" x2="138.60" y2="654.00" stroke="#1a1a1a" stroke-width="1.0" />
<text x="132.90" y="656.23" font-size="6.2" text-anchor="end" textLength="3.45" lengthAdjust="spacingAndGlyphs" fill="#262626" stroke="#262626" stroke-width="0.15899999999999997">0</text>
<line x1="135.80" y1="632.52" x2="138.60" y2="632.52" stroke="#1a1a1a" stroke-width="1.0" />
<text x="132.90" y="634.76" font-size="6.2" text-anchor="end" textLength="6.90" lengthAdjust="spacingAndGlyphs" fill="#262626" stroke="#262626" stroke-width="0.15899999999999997">10</text>
<line x1="135.80" y1="611.05" x2="138.60" y2="611.05" stroke="#1a1a1a" stroke-width="1.0" />
<text x="132.90" y="613.28" font-size="6.2" text-anchor="end" textLength="6.90" lengthAdjust="spacingAndGlyphs" fill="#262626" stroke="#262626" stroke-width="0.15899999999999997">20</text>
<line x1="135.80" y1="589.58" x2="138.60" y2="589.58" stroke="#1a1a1a" stroke-width="1.0" />
<text x="132.90" y="591.81" font-size="6.2" text-anchor="end" textLength="6.90" lengthAdjust="spacingAndGlyphs" fill="#262626" stroke="#262626" stroke-width="0.15899999999999997">30</text>
<line x1="135.80" y1="568.10" x2="138.60" y2="568.10" stroke="#1a1a1a" stroke-width="1.0" />
<text x="132.90" y="570.33" font-size="6.2" text-anchor="end" textLength="6.90" lengthAdjust="spacingAndGlyphs" fill="#262626" stroke="#262626" stroke-width="0.15899999999999997">40</text>
<line x1="145.40" y1="654.00" x2="145.40" y2="656.60" stroke="#1a1a1a" stroke-width="1.0" />
<line x1="159.30" y1="654.00" x2="159.30" y2="656.60" stroke="#1a1a1a" stroke-width="1.0" />
<line x1="172.70" y1="654.00" x2="172.70" y2="656.60" stroke="#1a1a1a" stroke-width="1.0" />
<line x1="186.40" y1="654.00" x2="186.40" y2="656.60" stroke="#1a1a1a" stroke-width="1.0" />
<text x="165.40" y="559.80" font-size="7.8" text-anchor="middle" textLength="42.00" lengthAdjust="spacingAndGlyphs" fill="#262626" stroke="#262626" stroke-width="0.3">LME1shEXT1</text>
<text transform="translate(121.10,649.60) rotate(-90)" font-size="8.6" text-anchor="start" textLength="79.50" lengthAdjust="spacingAndGlyphs" fill="#262626" stroke="#262626" stroke-width="0.26699999999999996">Fold increase of viable cells</text>
<line x1="145.45" y1="588.87" x2="145.45" y2="585.17" stroke="#1a1a1a" stroke-width="1.0" />
<line x1="142.95" y1="585.17" x2="147.95" y2="585.17" stroke="#1a1a1a" stroke-width="1.0" />
<rect x="141.00" y="588.87" width="8.90" height="65.13" fill="#bb0632" stroke="#6e0a22" stroke-width="0.7" />
<line x1="159.20" y1="621.36" x2="159.20" y2="618.14" stroke="#1a1a1a" stroke-width="1.0" />
<line x1="156.70" y1="618.14" x2="161.70" y2="618.14" stroke="#1a1a1a" stroke-width="1.0" />
<rect x="154.70" y="621.36" width="9.00" height="32.64" fill="#bb0632" stroke="#6e0a22" stroke-width="0.7" />
<line x1="172.75" y1="594.51" x2="172.75" y2="592.47" stroke="#1a1a1a" stroke-width="1.0" />
<line x1="170.25" y1="592.47" x2="175.25" y2="592.47" stroke="#1a1a1a" stroke-width="1.0" />
<rect x="168.40" y="594.51" width="8.70" height="59.49" fill="#2d5495" stroke="#1b3560" stroke-width="0.7" />
<line x1="186.50" y1="600.31" x2="186.50" y2="597.74" stroke="#1a1a1a" stroke-width="1.0" />
<line x1="184.00" y1="597.74" x2="189.00" y2="597.74" stroke="#1a1a1a" stroke-width="1.0" />
<rect x="182.20" y="600.31" width="8.60" height="53.69" fill="#2d5495" stroke="#1b3560" stroke-width="0.7" />
<polyline points="145.50,581.50 145.50,579.50 161.50,579.50 161.50,581.50" fill="none" stroke="#1a1a1a" stroke-width="0.9" stroke-linejoin="round" stroke-linejoin="miter"/>
<text x="153.50" y="581.10" font-size="7.6" text-anchor="middle" textLength="8.87" lengthAdjust="spacingAndGlyphs" fill="#262626" stroke="#262626" stroke-width="0.22199999999999998">***</text>
<polyline points="171.90,588.00 171.90,586.00 187.80,586.00 187.80,588.00" fill="none" stroke="#1a1a1a" stroke-width="0.9" stroke-linejoin="round" stroke-linejoin="miter"/>
<text x="179.85" y="584.20" font-size="6.6" text-anchor="middle" textLength="6.97" lengthAdjust="spacingAndGlyphs" fill="#262626" stroke="#262626" stroke-width="0.177">ns</text>
<text x="126.70" y="665.30" font-size="6.4" text-anchor="start" textLength="10.60" lengthAdjust="spacingAndGlyphs" fill="#262626" stroke="#262626" stroke-width="0.16799999999999998">Dox</text>
<text x="145.20" y="665.30" font-size="6.4" text-anchor="middle" textLength="2.13" lengthAdjust="spacingAndGlyphs" fill="#262626" stroke="#262626" stroke-width="0.16799999999999998">-</text>
<text x="159.00" y="665.30" font-size="6.4" text-anchor="middle" textLength="3.74" lengthAdjust="spacingAndGlyphs" fill="#262626" stroke="#262626" stroke-width="0.16799999999999998">+</text>
<text x="172.60" y="665.30" font-size="6.4" text-anchor="middle" textLength="2.13" lengthAdjust="spacingAndGlyphs" fill="#262626" stroke="#262626" stroke-width="0.16799999999999998">-</text>
<text x="186.40" y="665.30" font-size="6.4" text-anchor="middle" textLength="3.74" lengthAdjust="spacingAndGlyphs" fill="#262626" stroke="#262626" stroke-width="0.16799999999999998">+</text>
<rect x="196.20" y="576.30" width="4.70" height="4.70" fill="#bb0632" stroke="#7a0a25" stroke-width="0.6" />
<text x="203.80" y="580.40" font-size="6.0" text-anchor="start" textLength="30.40" lengthAdjust="spacingAndGlyphs" fill="#262626" stroke="#262626" stroke-width="0.15000000000000002">empty vector</text>
<rect x="196.20" y="584.90" width="4.70" height="4.70" fill="#2d5495" stroke="#1a3560" stroke-width="0.6" />
<text x="203.80" y="589.00" font-size="6.0" text-anchor="start" textLength="35.00" lengthAdjust="spacingAndGlyphs" fill="#262626" stroke="#262626" stroke-width="0.15000000000000002">S33Y β-catenin</text>
<text x="258.10" y="546.80" font-size="11.3" text-anchor="start" textLength="8.60" lengthAdjust="spacingAndGlyphs" fill="#0a0a0a" font-weight="bold" stroke="#0a0a0a" stroke-width="0.5">H</text>
<line x1="295.30" y1="571.75" x2="295.30" y2="654.45" stroke="#1a1a1a" stroke-width="1.15" />
<line x1="294.75" y1="653.90" x2="352.30" y2="653.90" stroke="#1a1a1a" stroke-width="1.15" />
<line x1="292.50" y1="653.90" x2="295.30" y2="653.90" stroke="#1a1a1a" stroke-width="1.0" />
<text x="289.60" y="656.13" font-size="6.2" text-anchor="end" textLength="3.45" lengthAdjust="spacingAndGlyphs" fill="#262626" stroke="#262626" stroke-width="0.15899999999999997">0</text>
<line x1="292.50" y1="626.70" x2="295.30" y2="626.70" stroke="#1a1a1a" stroke-width="1.0" />
<text x="289.60" y="628.93" font-size="6.2" text-anchor="end" textLength="6.90" lengthAdjust="spacingAndGlyphs" fill="#262626" stroke="#262626" stroke-width="0.15899999999999997">10</text>
<line x1="292.50" y1="599.50" x2="295.30" y2="599.50" stroke="#1a1a1a" stroke-width="1.0" />
<text x="289.60" y="601.73" font-size="6.2" text-anchor="end" textLength="6.90" lengthAdjust="spacingAndGlyphs" fill="#262626" stroke="#262626" stroke-width="0.15899999999999997">20</text>
<line x1="292.50" y1="572.30" x2="295.30" y2="572.30" stroke="#1a1a1a" stroke-width="1.0" />
<text x="289.60" y="574.53" font-size="6.2" text-anchor="end" textLength="6.90" lengthAdjust="spacingAndGlyphs" fill="#262626" stroke="#262626" stroke-width="0.15899999999999997">30</text>
<line x1="303.00" y1="653.90" x2="303.00" y2="656.50" stroke="#1a1a1a" stroke-width="1.0" />
<line x1="317.30" y1="653.90" x2="317.30" y2="656.50" stroke="#1a1a1a" stroke-width="1.0" />
<line x1="331.30" y1="653.90" x2="331.30" y2="656.50" stroke="#1a1a1a" stroke-width="1.0" />
<line x1="345.60" y1="653.90" x2="345.60" y2="656.50" stroke="#1a1a1a" stroke-width="1.0" />
<text x="324.00" y="560.00" font-size="7.8" text-anchor="middle" textLength="36.50" lengthAdjust="spacingAndGlyphs" fill="#262626" stroke="#262626" stroke-width="0.3">LP1shEXT1</text>
<text transform="translate(278.40,651.60) rotate(-90)" font-size="8.6" text-anchor="start" textLength="78.80" lengthAdjust="spacingAndGlyphs" fill="#262626" stroke="#262626" stroke-width="0.26699999999999996">Fold increase of viable cells</text>
<line x1="302.75" y1="608.10" x2="302.75" y2="602.49" stroke="#1a1a1a" stroke-width="1.0" />
<line x1="300.25" y1="602.49" x2="305.25" y2="602.49" stroke="#1a1a1a" stroke-width="1.0" />
<rect x="297.90" y="608.10" width="9.70" height="45.80" fill="#bb0632" stroke="#6e0a22" stroke-width="0.7" />
<line x1="317.15" y1="626.89" x2="317.15" y2="623.41" stroke="#1a1a1a" stroke-width="1.0" />
<line x1="314.65" y1="623.41" x2="319.65" y2="623.41" stroke="#1a1a1a" stroke-width="1.0" />
<rect x="312.30" y="626.89" width="9.70" height="27.01" fill="#bb0632" stroke="#6e0a22" stroke-width="0.7" />
<line x1="331.85" y1="590.25" x2="331.85" y2="585.63" stroke="#1a1a1a" stroke-width="1.0" />
<line x1="329.35" y1="585.63" x2="334.35" y2="585.63" stroke="#1a1a1a" stroke-width="1.0" />
<rect x="327.10" y="590.25" width="9.50" height="63.65" fill="#2d5495" stroke="#1b3560" stroke-width="0.7" />
<line x1="346.30" y1="600.59" x2="346.30" y2="595.15" stroke="#1a1a1a" stroke-width="1.0" />
<line x1="343.80" y1="595.15" x2="348.80" y2="595.15" stroke="#1a1a1a" stroke-width="1.0" />
<rect x="341.60" y="600.59" width="9.40" height="53.31" fill="#2d5495" stroke="#1b3560" stroke-width="0.7" />
<polyline points="302.20,599.50 302.20,597.50 316.90,597.50 316.90,599.50" fill="none" stroke="#1a1a1a" stroke-width="0.9" stroke-linejoin="round" stroke-linejoin="miter"/>
<text x="309.55" y="599.10" font-size="7.6" text-anchor="middle" textLength="5.92" lengthAdjust="spacingAndGlyphs" fill="#262626" stroke="#262626" stroke-width="0.22199999999999998">**</text>
<polyline points="331.30,582.40 331.30,580.40 346.60,580.40 346.60,582.40" fill="none" stroke="#1a1a1a" stroke-width="0.9" stroke-linejoin="round" stroke-linejoin="miter"/>
<text x="338.95" y="578.60" font-size="6.6" text-anchor="middle" textLength="6.97" lengthAdjust="spacingAndGlyphs" fill="#262626" stroke="#262626" stroke-width="0.177">ns</text>
<text x="283.70" y="666.00" font-size="6.4" text-anchor="start" textLength="10.60" lengthAdjust="spacingAndGlyphs" fill="#262626" stroke="#262626" stroke-width="0.16799999999999998">Dox</text>
<text x="303.00" y="666.00" font-size="6.4" text-anchor="middle" textLength="2.13" lengthAdjust="spacingAndGlyphs" fill="#262626" stroke="#262626" stroke-width="0.16799999999999998">-</text>
<text x="317.30" y="666.00" font-size="6.4" text-anchor="middle" textLength="3.74" lengthAdjust="spacingAndGlyphs" fill="#262626" stroke="#262626" stroke-width="0.16799999999999998">+</text>
<text x="331.30" y="666.00" font-size="6.4" text-anchor="middle" textLength="2.13" lengthAdjust="spacingAndGlyphs" fill="#262626" stroke="#262626" stroke-width="0.16799999999999998">-</text>
<text x="345.60" y="666.00" font-size="6.4" text-anchor="middle" textLength="3.74" lengthAdjust="spacingAndGlyphs" fill="#262626" stroke="#262626" stroke-width="0.16799999999999998">+</text>
<line x1="394.10" y1="573.95" x2="394.10" y2="654.55" stroke="#1a1a1a" stroke-width="1.15" />
<line x1="393.55" y1="654.00" x2="448.50" y2="654.00" stroke="#1a1a1a" stroke-width="1.15" />
<line x1="391.30" y1="654.00" x2="394.10" y2="654.00" stroke="#1a1a1a" stroke-width="1.0" />
<text x="388.40" y="656.23" font-size="6.2" text-anchor="end" textLength="3.45" lengthAdjust="spacingAndGlyphs" fill="#262626" stroke="#262626" stroke-width="0.15899999999999997">0</text>
<line x1="391.30" y1="638.10" x2="394.10" y2="638.10" stroke="#1a1a1a" stroke-width="1.0" />
<text x="388.40" y="640.33" font-size="6.2" text-anchor="end" textLength="6.90" lengthAdjust="spacingAndGlyphs" fill="#262626" stroke="#262626" stroke-width="0.15899999999999997">10</text>
<line x1="391.30" y1="622.20" x2="394.10" y2="622.20" stroke="#1a1a1a" stroke-width="1.0" />
<text x="388.40" y="624.43" font-size="6.2" text-anchor="end" textLength="6.90" lengthAdjust="spacingAndGlyphs" fill="#262626" stroke="#262626" stroke-width="0.15899999999999997">20</text>
<line x1="391.30" y1="606.30" x2="394.10" y2="606.30" stroke="#1a1a1a" stroke-width="1.0" />
<text x="388.40" y="608.53" font-size="6.2" text-anchor="end" textLength="6.90" lengthAdjust="spacingAndGlyphs" fill="#262626" stroke="#262626" stroke-width="0.15899999999999997">30</text>
<line x1="391.30" y1="590.40" x2="394.10" y2="590.40" stroke="#1a1a1a" stroke-width="1.0" />
<text x="388.40" y="592.63" font-size="6.2" text-anchor="end" textLength="6.90" lengthAdjust="spacingAndGlyphs" fill="#262626" stroke="#262626" stroke-width="0.15899999999999997">40</text>
<line x1="391.30" y1="574.50" x2="394.10" y2="574.50" stroke="#1a1a1a" stroke-width="1.0" />
<text x="388.40" y="576.73" font-size="6.2" text-anchor="end" textLength="6.90" lengthAdjust="spacingAndGlyphs" fill="#262626" stroke="#262626" stroke-width="0.15899999999999997">50</text>
<line x1="400.90" y1="654.00" x2="400.90" y2="656.60" stroke="#1a1a1a" stroke-width="1.0" />
<line x1="414.70" y1="654.00" x2="414.70" y2="656.60" stroke="#1a1a1a" stroke-width="1.0" />
<line x1="428.60" y1="654.00" x2="428.60" y2="656.60" stroke="#1a1a1a" stroke-width="1.0" />
<line x1="442.10" y1="654.00" x2="442.10" y2="656.60" stroke="#1a1a1a" stroke-width="1.0" />
<text x="420.50" y="559.80" font-size="7.8" text-anchor="middle" textLength="42.00" lengthAdjust="spacingAndGlyphs" fill="#262626" stroke="#262626" stroke-width="0.3">LME1shEXT1</text>
<text transform="translate(376.40,653.00) rotate(-90)" font-size="8.6" text-anchor="start" textLength="78.80" lengthAdjust="spacingAndGlyphs" fill="#262626" stroke="#262626" stroke-width="0.26699999999999996">Fold increase of viable cells</text>
<line x1="400.95" y1="608.68" x2="400.95" y2="605.19" stroke="#1a1a1a" stroke-width="1.0" />
<line x1="398.45" y1="605.19" x2="403.45" y2="605.19" stroke="#1a1a1a" stroke-width="1.0" />
<rect x="396.40" y="608.68" width="9.10" height="45.32" fill="#bb0632" stroke="#6e0a22" stroke-width="0.7" />
<line x1="414.65" y1="630.15" x2="414.65" y2="627.76" stroke="#1a1a1a" stroke-width="1.0" />
<line x1="412.15" y1="627.76" x2="417.15" y2="627.76" stroke="#1a1a1a" stroke-width="1.0" />
<rect x="410.10" y="630.15" width="9.10" height="23.85" fill="#bb0632" stroke="#6e0a22" stroke-width="0.7" />
<line x1="428.60" y1="591.20" x2="428.60" y2="587.54" stroke="#1a1a1a" stroke-width="1.0" />
<line x1="426.10" y1="587.54" x2="431.10" y2="587.54" stroke="#1a1a1a" stroke-width="1.0" />
<rect x="424.20" y="591.20" width="8.80" height="62.80" fill="#2d5495" stroke="#1b3560" stroke-width="0.7" />
<line x1="442.40" y1="598.03" x2="442.40" y2="596.28" stroke="#1a1a1a" stroke-width="1.0" />
<line x1="439.90" y1="596.28" x2="444.90" y2="596.28" stroke="#1a1a1a" stroke-width="1.0" />
<rect x="437.80" y="598.03" width="9.20" height="55.97" fill="#2d5495" stroke="#1b3560" stroke-width="0.7" />
<polyline points="401.20,601.00 401.20,599.00 414.50,599.00 414.50,601.00" fill="none" stroke="#1a1a1a" stroke-width="0.9" stroke-linejoin="round" stroke-linejoin="miter"/>
<text x="407.85" y="600.60" font-size="7.6" text-anchor="middle" textLength="8.87" lengthAdjust="spacingAndGlyphs" fill="#262626" stroke="#262626" stroke-width="0.22199999999999998">***</text>
<polyline points="428.40,584.80 428.40,582.80 441.30,582.80 441.30,584.80" fill="none" stroke="#1a1a1a" stroke-width="0.9" stroke-linejoin="round" stroke-linejoin="miter"/>
<text x="434.85" y="581.00" font-size="6.6" text-anchor="middle" textLength="6.97" lengthAdjust="spacingAndGlyphs" fill="#262626" stroke="#262626" stroke-width="0.177">ns</text>
<text x="383.00" y="665.80" font-size="6.4" text-anchor="start" textLength="10.60" lengthAdjust="spacingAndGlyphs" fill="#262626" stroke="#262626" stroke-width="0.16799999999999998">Dox</text>
<text x="400.90" y="665.80" font-size="6.4" text-anchor="middle" textLength="2.13" lengthAdjust="spacingAndGlyphs" fill="#262626" stroke="#262626" stroke-width="0.16799999999999998">-</text>
<text x="414.70" y="665.80" font-size="6.4" text-anchor="middle" textLength="3.74" lengthAdjust="spacingAndGlyphs" fill="#262626" stroke="#262626" stroke-width="0.16799999999999998">+</text>
<text x="428.60" y="665.80" font-size="6.4" text-anchor="middle" textLength="2.13" lengthAdjust="spacingAndGlyphs" fill="#262626" stroke="#262626" stroke-width="0.16799999999999998">-</text>
<text x="442.10" y="665.80" font-size="6.4" text-anchor="middle" textLength="3.74" lengthAdjust="spacingAndGlyphs" fill="#262626" stroke="#262626" stroke-width="0.16799999999999998">+</text>
<rect x="452.60" y="576.30" width="4.70" height="4.70" fill="#bb0632" stroke="#7a0a25" stroke-width="0.6" />
<text x="460.20" y="580.40" font-size="6.0" text-anchor="start" textLength="30.40" lengthAdjust="spacingAndGlyphs" fill="#262626" stroke="#262626" stroke-width="0.15000000000000002">empty vector</text>
<rect x="452.60" y="584.90" width="4.70" height="4.70" fill="#2d5495" stroke="#1a3560" stroke-width="0.6" />
<text x="460.20" y="589.00" font-size="6.0" text-anchor="start" textLength="14.00" lengthAdjust="spacingAndGlyphs" fill="#262626" stroke="#262626" stroke-width="0.15000000000000002">c-Myc</text>
</g>
<rect x="0.6" y="0.6" width="518.8" height="672.8" fill="none" stroke="#000" stroke-width="1.25"/>
</svg></body></html>
